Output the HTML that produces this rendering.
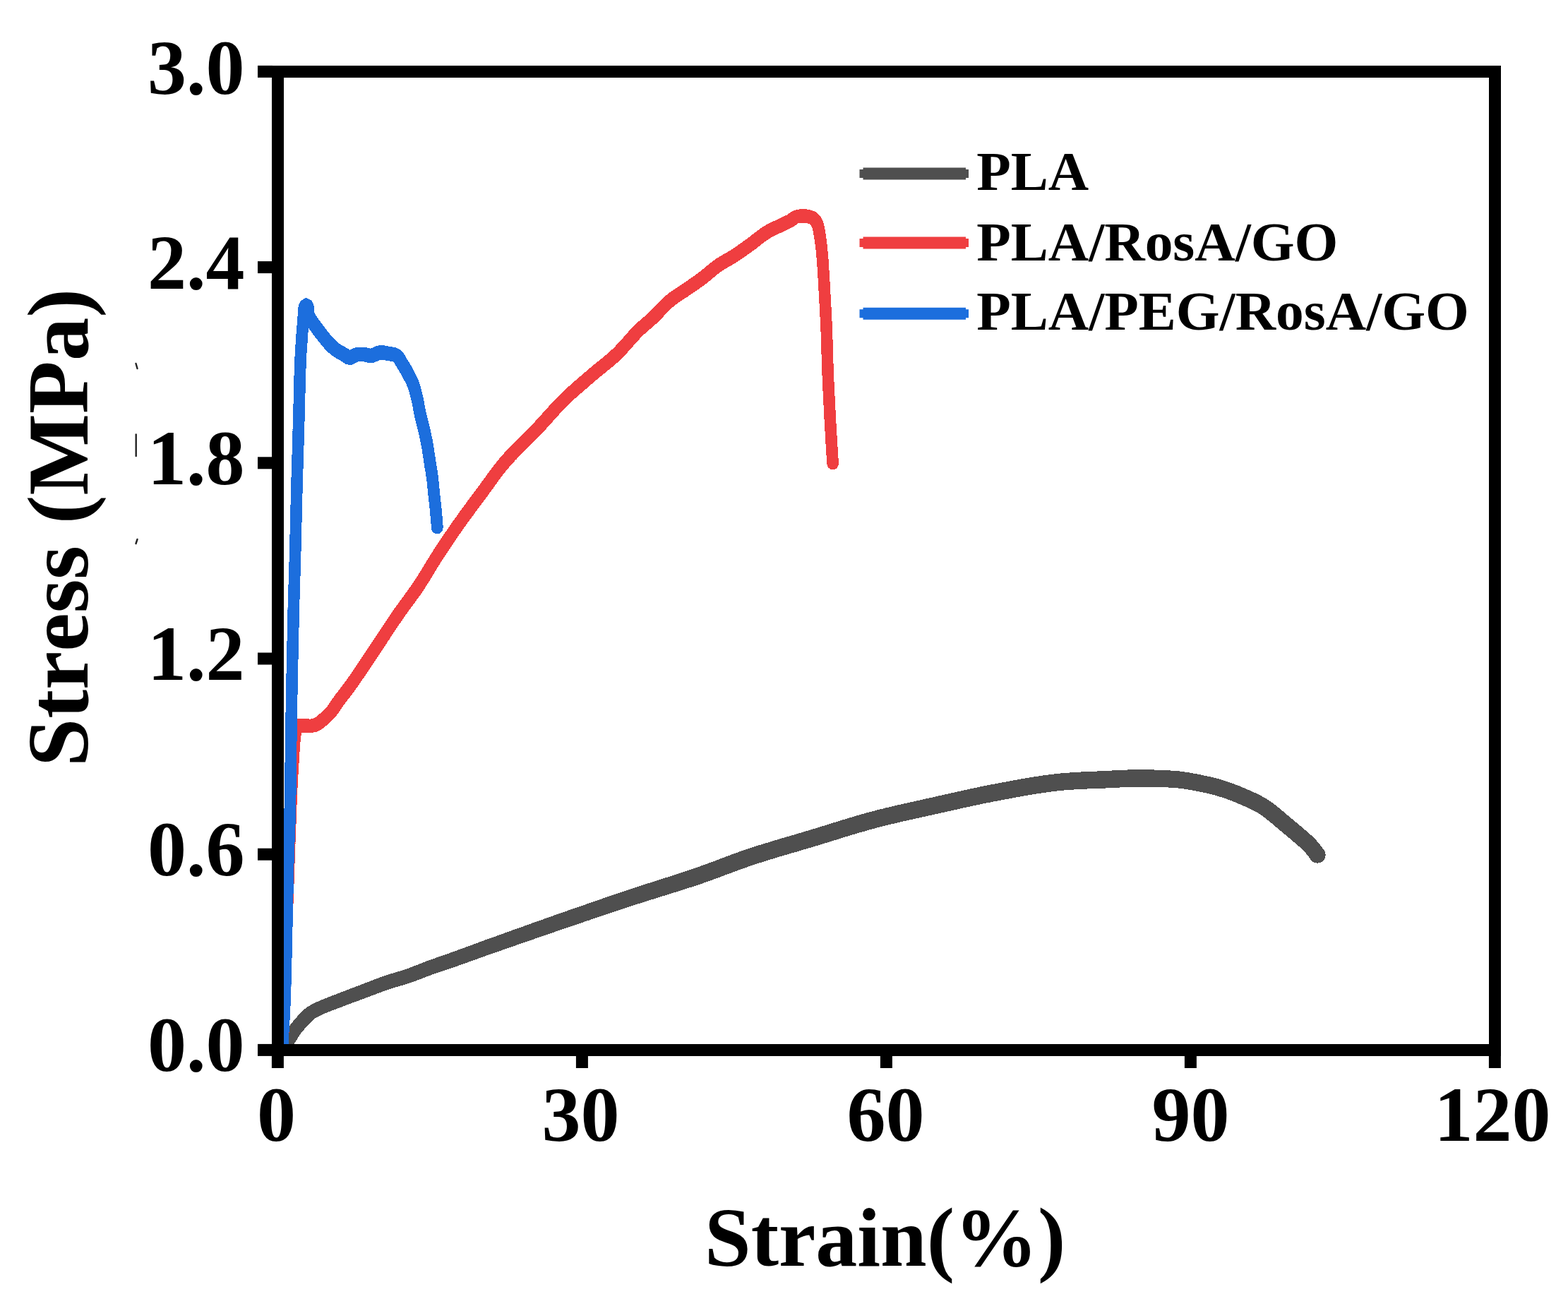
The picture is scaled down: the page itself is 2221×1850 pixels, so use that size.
<!DOCTYPE html>
<html><head><meta charset="utf-8"><title>Stress-Strain</title>
<style>html,body{margin:0;padding:0;background:#fff;}svg{display:block;} text{font-kerning:none;font-feature-settings:"kern" 0;}</style>
</head><body>
<svg width="2221" height="1850" viewBox="0 0 2221 1850">
<rect width="100%" height="100%" fill="#fff"/>
<g fill="none" stroke-linejoin="round" stroke-linecap="round" shape-rendering="crispEdges">
<path d="M401.0 1487.0 C401.8 1485.5 404.2 1481.2 406.0 1478.0 C407.8 1474.8 409.9 1471.3 412.0 1468.0 C414.1 1464.7 416.2 1461.1 418.5 1458.0 C420.8 1454.9 423.1 1452.3 425.5 1449.6 C427.9 1446.8 430.5 1444.0 433.0 1441.5 C435.5 1439.0 436.9 1437.2 440.7 1434.7 C444.5 1432.2 448.4 1430.1 456.0 1426.8 C463.6 1423.5 476.2 1418.8 486.4 1414.9 C496.5 1411.0 506.7 1407.2 516.9 1403.4 C527.1 1399.6 537.2 1395.5 547.4 1392.0 C557.6 1388.5 567.8 1386.1 577.9 1382.6 C588.0 1379.1 598.1 1374.7 608.3 1371.0 C618.4 1367.3 628.6 1364.1 638.8 1360.5 C649.0 1356.9 659.1 1353.2 669.3 1349.5 C679.5 1345.8 678.8 1345.9 699.8 1338.5 C720.8 1331.1 763.4 1316.0 795.2 1305.0 C827.0 1294.0 858.8 1283.0 890.5 1272.5 C922.2 1262.0 956.5 1251.8 985.7 1241.9 C1014.9 1232.0 1038.1 1222.1 1065.7 1213.0 C1093.3 1203.9 1122.8 1195.7 1151.4 1187.1 C1180.0 1178.5 1208.5 1169.0 1237.1 1161.4 C1265.7 1153.8 1294.3 1147.8 1322.9 1141.4 C1351.5 1135.0 1380.0 1128.4 1408.6 1122.9 C1437.2 1117.4 1467.4 1111.8 1494.3 1108.6 C1521.2 1105.4 1549.5 1105.0 1570.0 1104.0 C1590.5 1103.0 1601.4 1102.4 1617.1 1102.4 C1632.8 1102.4 1651.2 1103.0 1664.3 1104.0 C1677.4 1105.0 1685.2 1106.7 1695.7 1108.7 C1706.2 1110.7 1716.6 1112.9 1727.1 1116.0 C1737.6 1119.1 1748.1 1123.0 1758.6 1127.5 C1769.1 1132.0 1779.5 1136.2 1790.0 1143.0 C1800.5 1149.8 1810.9 1159.3 1821.4 1168.0 C1831.9 1176.7 1845.4 1187.8 1852.8 1195.0 C1860.2 1202.2 1863.8 1208.3 1866.0 1211.0" fill="none" stroke="#4f4f4f" stroke-width="18"/>
<path d="M409.4 1491.6 L409.9 1490.6 L410.6 1489.3 L411.5 1487.8 L412.4 1486.1 L413.4 1484.4 L414.3 1482.8 L415.1 1481.4 L415.9 1480.1 L416.7 1478.7 L417.6 1477.3 L418.4 1475.9 L419.3 1474.5 L420.2 1473.1 L421.0 1471.6 L421.9 1470.2 L422.8 1468.8 L423.7 1467.4 L424.6 1466.1 L425.4 1464.9 L426.3 1463.7 L427.1 1462.6 L428.0 1461.5 L428.8 1460.4 L429.8 1459.4 L430.7 1458.3 L431.7 1457.1 L432.7 1456.0 L433.8 1454.8 L434.8 1453.7 L435.8 1452.5 L436.8 1451.4 L437.8 1450.4 L438.8 1449.3 L439.9 1448.3 L441.1 1447.1 L442.1 1446.1 L442.9 1445.2 L443.7 1444.5 L444.8 1443.6 L446.2 1442.7 L447.0 1442.2 L447.8 1441.7 L448.8 1441.1 L449.8 1440.6 L450.9 1440.0 L452.0 1439.4 L453.3 1438.7 L454.7 1438.1 L456.3 1437.3 L458.0 1436.6 L459.9 1435.7 L460.9 1435.3 L462.1 1434.8 L463.3 1434.3 L464.5 1433.8 L465.8 1433.3 L467.2 1432.8 L468.6 1432.2 L470.0 1431.6 L471.5 1431.1 L473.0 1430.5 L474.5 1429.9 L476.1 1429.3 L477.6 1428.7 L479.2 1428.1 L480.8 1427.6 L482.3 1427.0 L483.9 1426.4 L485.4 1425.8 L486.9 1425.2 L488.5 1424.7 L489.9 1424.1 L491.4 1423.5 L492.8 1423.0 L494.3 1422.4 L495.7 1421.9 L497.2 1421.4 L498.6 1420.8 L500.0 1420.3 L501.5 1419.7 L502.9 1419.2 L504.4 1418.7 L505.9 1418.1 L507.3 1417.6 L508.8 1417.0 L510.2 1416.5 L511.7 1416.0 L513.1 1415.4 L514.6 1414.9 L516.0 1414.3 L517.5 1413.8 L518.9 1413.3 L520.4 1412.7 L521.9 1412.2 L523.3 1411.6 L524.8 1411.1 L526.3 1410.5 L527.7 1410.0 L529.2 1409.4 L530.7 1408.8 L532.1 1408.3 L533.6 1407.7 L535.0 1407.2 L536.4 1406.6 L537.9 1406.1 L539.3 1405.6 L540.7 1405.0 L542.2 1404.5 L543.6 1404.0 L545.0 1403.5 L546.4 1403.0 L547.8 1402.5 L549.2 1402.0 L550.6 1401.5 L552.0 1401.1 L553.4 1400.6 L554.8 1400.2 L556.2 1399.7 L557.6 1399.3 L559.0 1398.9 L560.4 1398.5 L561.9 1398.1 L563.3 1397.6 L564.8 1397.2 L566.2 1396.8 L567.7 1396.4 L569.2 1396.0 L570.6 1395.5 L572.1 1395.1 L573.6 1394.6 L575.1 1394.2 L576.6 1393.7 L578.2 1393.2 L579.7 1392.7 L581.2 1392.2 L582.7 1391.7 L584.3 1391.2 L585.8 1390.6 L587.3 1390.1 L588.8 1389.5 L590.2 1388.9 L591.7 1388.4 L593.2 1387.8 L594.7 1387.2 L596.1 1386.7 L597.6 1386.1 L599.0 1385.5 L600.5 1385.0 L601.9 1384.4 L603.3 1383.8 L604.8 1383.3 L606.2 1382.8 L607.6 1382.2 L609.0 1381.7 L610.4 1381.2 L611.8 1380.7 L613.2 1380.2 L614.7 1379.7 L616.1 1379.2 L617.5 1378.7 L618.9 1378.2 L620.4 1377.7 L621.8 1377.2 L623.2 1376.7 L624.7 1376.3 L626.1 1375.8 L627.6 1375.3 L629.0 1374.8 L630.5 1374.3 L632.0 1373.8 L633.4 1373.4 L634.9 1372.9 L636.4 1372.4 L637.8 1371.9 L639.3 1371.4 L640.8 1370.9 L642.3 1370.4 L643.7 1369.8 L645.2 1369.3 L646.7 1368.8 L648.1 1368.3 L649.6 1367.8 L651.1 1367.3 L652.5 1366.7 L654.0 1366.2 L655.4 1365.7 L656.9 1365.2 L658.4 1364.7 L659.8 1364.1 L661.3 1363.6 L662.7 1363.1 L664.2 1362.6 L665.6 1362.1 L667.1 1361.5 L668.5 1361.0 L670.0 1360.5 L671.4 1360.0 L672.9 1359.5 L674.3 1359.0 L675.6 1358.5 L676.7 1358.1 L677.8 1357.7 L678.8 1357.3 L679.8 1357.0 L680.7 1356.6 L681.7 1356.3 L682.6 1356.0 L683.6 1355.6 L684.7 1355.2 L685.8 1354.8 L687.1 1354.4 L688.4 1353.9 L690.0 1353.3 L691.7 1352.7 L693.5 1352.1 L695.6 1351.3 L698.0 1350.5 L700.5 1349.6 L703.4 1348.6 L704.3 1348.3 L705.3 1348.0 L706.3 1347.6 L707.4 1347.2 L708.4 1346.9 L709.5 1346.5 L710.6 1346.1 L711.8 1345.7 L712.9 1345.3 L714.1 1344.9 L715.3 1344.5 L716.6 1344.0 L717.8 1343.6 L719.1 1343.2 L720.4 1342.7 L721.7 1342.3 L723.0 1341.8 L724.4 1341.3 L725.7 1340.8 L727.1 1340.4 L728.5 1339.9 L729.9 1339.4 L731.4 1338.9 L732.8 1338.4 L734.3 1337.9 L735.7 1337.4 L737.2 1336.9 L738.7 1336.3 L740.2 1335.8 L741.7 1335.3 L743.2 1334.8 L744.8 1334.2 L746.3 1333.7 L747.9 1333.2 L749.4 1332.6 L751.0 1332.1 L752.5 1331.5 L754.1 1331.0 L755.7 1330.5 L757.3 1329.9 L758.8 1329.4 L760.4 1328.8 L762.0 1328.3 L763.6 1327.7 L765.2 1327.2 L766.8 1326.6 L768.4 1326.1 L769.9 1325.5 L771.5 1325.0 L773.1 1324.4 L774.7 1323.9 L776.3 1323.4 L777.8 1322.8 L779.4 1322.3 L780.9 1321.8 L782.5 1321.2 L784.0 1320.7 L785.6 1320.2 L787.1 1319.6 L788.6 1319.1 L790.1 1318.6 L791.6 1318.1 L793.1 1317.6 L794.5 1317.1 L796.0 1316.6 L797.4 1316.1 L798.9 1315.6 L800.3 1315.1 L801.7 1314.6 L803.1 1314.2 L804.6 1313.7 L806.0 1313.2 L807.4 1312.7 L808.8 1312.2 L810.3 1311.7 L811.7 1311.2 L813.1 1310.7 L814.5 1310.3 L816.0 1309.8 L817.4 1309.3 L818.8 1308.8 L820.2 1308.3 L821.7 1307.8 L823.1 1307.3 L824.5 1306.9 L825.9 1306.4 L827.4 1305.9 L828.8 1305.4 L830.2 1304.9 L831.6 1304.4 L833.0 1303.9 L834.5 1303.5 L835.9 1303.0 L837.3 1302.5 L838.7 1302.0 L840.2 1301.5 L841.6 1301.1 L843.0 1300.6 L844.4 1300.1 L845.8 1299.6 L847.3 1299.1 L848.7 1298.6 L850.1 1298.2 L851.5 1297.7 L853.0 1297.2 L854.4 1296.7 L855.8 1296.2 L857.2 1295.8 L858.6 1295.3 L860.1 1294.8 L861.5 1294.3 L862.9 1293.9 L864.3 1293.4 L865.7 1292.9 L867.2 1292.4 L868.6 1292.0 L870.0 1291.5 L871.4 1291.0 L872.8 1290.5 L874.3 1290.1 L875.7 1289.6 L877.1 1289.1 L878.5 1288.6 L879.9 1288.2 L881.4 1287.7 L882.8 1287.2 L884.2 1286.8 L885.6 1286.3 L887.0 1285.8 L888.5 1285.4 L889.9 1284.9 L891.3 1284.4 L892.7 1284.0 L894.1 1283.5 L895.6 1283.0 L897.0 1282.6 L898.5 1282.1 L899.9 1281.6 L901.4 1281.2 L902.8 1280.7 L904.3 1280.2 L905.7 1279.8 L907.2 1279.3 L908.6 1278.8 L910.1 1278.4 L911.6 1277.9 L913.0 1277.4 L914.5 1277.0 L916.0 1276.5 L917.5 1276.0 L918.9 1275.6 L920.4 1275.1 L921.9 1274.6 L923.4 1274.2 L924.9 1273.7 L926.3 1273.3 L927.8 1272.8 L929.3 1272.3 L930.8 1271.9 L932.3 1271.4 L933.7 1271.0 L935.2 1270.5 L936.7 1270.0 L938.2 1269.6 L939.6 1269.1 L941.1 1268.7 L942.6 1268.2 L944.1 1267.7 L945.5 1267.3 L947.0 1266.8 L948.5 1266.4 L949.9 1265.9 L951.4 1265.5 L952.9 1265.0 L954.3 1264.5 L955.8 1264.1 L957.2 1263.6 L958.7 1263.2 L960.1 1262.7 L961.6 1262.3 L963.0 1261.8 L964.5 1261.4 L965.9 1260.9 L967.3 1260.5 L968.7 1260.0 L970.2 1259.5 L971.6 1259.1 L973.0 1258.6 L974.4 1258.2 L975.8 1257.7 L977.2 1257.3 L978.6 1256.8 L980.0 1256.4 L981.4 1255.9 L982.7 1255.5 L984.1 1255.0 L985.5 1254.6 L986.8 1254.1 L988.2 1253.7 L989.5 1253.2 L991.1 1252.7 L992.7 1252.1 L994.3 1251.6 L995.8 1251.1 L997.3 1250.5 L998.9 1250.0 L1000.4 1249.5 L1001.9 1249.0 L1003.4 1248.4 L1004.9 1247.9 L1006.4 1247.4 L1007.8 1246.8 L1009.3 1246.3 L1010.8 1245.8 L1012.2 1245.2 L1013.7 1244.7 L1015.1 1244.2 L1016.5 1243.6 L1017.9 1243.1 L1019.4 1242.6 L1020.8 1242.1 L1022.2 1241.5 L1023.6 1241.0 L1025.0 1240.5 L1026.4 1240.0 L1027.7 1239.4 L1029.1 1238.9 L1030.5 1238.4 L1031.9 1237.9 L1033.3 1237.4 L1034.6 1236.9 L1036.0 1236.3 L1037.4 1235.8 L1038.8 1235.3 L1040.1 1234.8 L1041.5 1234.3 L1042.9 1233.8 L1044.3 1233.3 L1045.6 1232.8 L1047.0 1232.3 L1048.4 1231.8 L1049.8 1231.3 L1051.1 1230.8 L1052.5 1230.3 L1053.9 1229.8 L1055.3 1229.3 L1056.7 1228.8 L1058.1 1228.3 L1059.5 1227.8 L1060.9 1227.3 L1062.3 1226.8 L1063.7 1226.3 L1065.2 1225.9 L1066.6 1225.4 L1068.0 1224.9 L1069.5 1224.4 L1070.9 1224.0 L1072.3 1223.5 L1073.6 1223.1 L1075.0 1222.6 L1076.4 1222.2 L1077.8 1221.7 L1079.3 1221.3 L1080.7 1220.8 L1082.1 1220.4 L1083.5 1219.9 L1084.9 1219.5 L1086.3 1219.0 L1087.8 1218.6 L1089.2 1218.1 L1090.6 1217.7 L1092.1 1217.3 L1093.5 1216.8 L1094.9 1216.4 L1096.4 1216.0 L1097.8 1215.5 L1099.3 1215.1 L1100.7 1214.6 L1102.2 1214.2 L1103.6 1213.8 L1105.1 1213.3 L1106.5 1212.9 L1108.0 1212.5 L1109.4 1212.0 L1110.9 1211.6 L1112.3 1211.2 L1113.8 1210.8 L1115.3 1210.3 L1116.7 1209.9 L1118.2 1209.5 L1119.7 1209.0 L1121.1 1208.6 L1122.6 1208.2 L1124.1 1207.7 L1125.5 1207.3 L1127.0 1206.9 L1128.5 1206.5 L1129.9 1206.0 L1131.4 1205.6 L1132.9 1205.2 L1134.3 1204.7 L1135.8 1204.3 L1137.3 1203.9 L1138.7 1203.4 L1140.2 1203.0 L1141.7 1202.6 L1143.2 1202.1 L1144.6 1201.7 L1146.1 1201.3 L1147.6 1200.8 L1149.0 1200.4 L1150.5 1200.0 L1152.0 1199.5 L1153.4 1199.1 L1154.9 1198.7 L1156.3 1198.2 L1157.8 1197.8 L1159.3 1197.3 L1160.7 1196.9 L1162.2 1196.4 L1163.6 1196.0 L1165.1 1195.5 L1166.6 1195.1 L1168.0 1194.6 L1169.5 1194.2 L1170.9 1193.7 L1172.4 1193.3 L1173.9 1192.8 L1175.3 1192.4 L1176.8 1191.9 L1178.2 1191.5 L1179.7 1191.0 L1181.1 1190.6 L1182.6 1190.1 L1184.0 1189.7 L1185.5 1189.2 L1186.9 1188.8 L1188.4 1188.3 L1189.8 1187.9 L1191.3 1187.4 L1192.7 1187.0 L1194.2 1186.5 L1195.6 1186.1 L1197.1 1185.6 L1198.5 1185.2 L1200.0 1184.8 L1201.4 1184.3 L1202.9 1183.9 L1204.3 1183.4 L1205.7 1183.0 L1207.2 1182.6 L1208.6 1182.1 L1210.1 1181.7 L1211.5 1181.3 L1213.0 1180.8 L1214.4 1180.4 L1215.8 1180.0 L1217.3 1179.5 L1218.7 1179.1 L1220.1 1178.7 L1221.6 1178.3 L1223.0 1177.9 L1224.5 1177.5 L1225.9 1177.0 L1227.3 1176.6 L1228.8 1176.2 L1230.2 1175.8 L1231.6 1175.4 L1233.1 1175.0 L1234.5 1174.6 L1235.9 1174.2 L1237.4 1173.9 L1238.8 1173.5 L1240.2 1173.1 L1241.7 1172.7 L1243.1 1172.3 L1244.6 1171.9 L1246.0 1171.6 L1247.5 1171.2 L1249.0 1170.8 L1250.4 1170.4 L1251.9 1170.1 L1253.3 1169.7 L1254.8 1169.3 L1256.3 1169.0 L1257.7 1168.6 L1259.2 1168.3 L1260.7 1167.9 L1262.1 1167.6 L1263.6 1167.2 L1265.1 1166.9 L1266.5 1166.5 L1268.0 1166.2 L1269.5 1165.8 L1270.9 1165.5 L1272.4 1165.1 L1273.9 1164.8 L1275.3 1164.4 L1276.8 1164.1 L1278.3 1163.8 L1279.7 1163.4 L1281.2 1163.1 L1282.7 1162.8 L1284.2 1162.4 L1285.6 1162.1 L1287.1 1161.8 L1288.6 1161.4 L1290.0 1161.1 L1291.5 1160.8 L1293.0 1160.5 L1294.5 1160.1 L1295.9 1159.8 L1297.4 1159.5 L1298.9 1159.1 L1300.4 1158.8 L1301.9 1158.5 L1303.3 1158.2 L1304.8 1157.8 L1306.3 1157.5 L1307.8 1157.2 L1309.3 1156.9 L1310.7 1156.5 L1312.2 1156.2 L1313.7 1155.9 L1315.2 1155.5 L1316.7 1155.2 L1318.1 1154.9 L1319.6 1154.6 L1321.1 1154.2 L1322.6 1153.9 L1324.1 1153.6 L1325.6 1153.2 L1327.0 1152.9 L1328.5 1152.6 L1330.0 1152.2 L1331.5 1151.9 L1333.0 1151.6 L1334.4 1151.2 L1335.9 1150.9 L1337.4 1150.6 L1338.9 1150.2 L1340.4 1149.9 L1341.8 1149.6 L1343.3 1149.2 L1344.8 1148.9 L1346.3 1148.6 L1347.7 1148.3 L1349.2 1147.9 L1350.7 1147.6 L1352.2 1147.3 L1353.6 1146.9 L1355.1 1146.6 L1356.6 1146.3 L1358.1 1145.9 L1359.5 1145.6 L1361.0 1145.3 L1362.5 1145.0 L1364.0 1144.6 L1365.4 1144.3 L1366.9 1144.0 L1368.4 1143.7 L1369.8 1143.3 L1371.3 1143.0 L1372.8 1142.7 L1374.2 1142.4 L1375.7 1142.1 L1377.2 1141.7 L1378.7 1141.4 L1380.1 1141.1 L1381.6 1140.8 L1383.1 1140.5 L1384.5 1140.2 L1386.0 1139.9 L1387.5 1139.6 L1388.9 1139.3 L1390.4 1138.9 L1391.9 1138.6 L1393.3 1138.3 L1394.8 1138.0 L1396.3 1137.7 L1397.7 1137.4 L1399.2 1137.1 L1400.6 1136.9 L1402.1 1136.6 L1403.6 1136.3 L1405.0 1136.0 L1406.5 1135.7 L1408.0 1135.4 L1409.4 1135.1 L1410.9 1134.9 L1412.4 1134.6 L1413.9 1134.3 L1415.4 1134.0 L1416.9 1133.7 L1418.4 1133.4 L1419.9 1133.1 L1421.5 1132.8 L1423.0 1132.6 L1424.5 1132.3 L1426.0 1132.0 L1427.5 1131.7 L1429.1 1131.4 L1430.6 1131.1 L1432.1 1130.8 L1433.6 1130.6 L1435.1 1130.3 L1436.7 1130.0 L1438.2 1129.7 L1439.7 1129.4 L1441.2 1129.2 L1442.8 1128.9 L1444.3 1128.6 L1445.8 1128.4 L1447.3 1128.1 L1448.8 1127.8 L1450.4 1127.5 L1451.9 1127.3 L1453.4 1127.0 L1454.9 1126.8 L1456.4 1126.5 L1457.9 1126.3 L1459.4 1126.0 L1460.9 1125.7 L1462.4 1125.5 L1463.9 1125.3 L1465.4 1125.0 L1466.9 1124.8 L1468.4 1124.5 L1469.9 1124.3 L1471.3 1124.1 L1472.8 1123.8 L1474.3 1123.6 L1475.8 1123.4 L1477.2 1123.2 L1478.7 1123.0 L1480.1 1122.8 L1481.6 1122.6 L1483.0 1122.4 L1484.4 1122.2 L1485.9 1122.0 L1487.3 1121.8 L1488.7 1121.6 L1490.1 1121.4 L1491.5 1121.2 L1492.9 1121.1 L1494.3 1120.9 L1495.7 1120.7 L1497.3 1120.5 L1498.9 1120.4 L1500.4 1120.2 L1502.0 1120.0 L1503.6 1119.9 L1505.2 1119.7 L1506.8 1119.6 L1508.3 1119.4 L1509.9 1119.3 L1511.5 1119.2 L1513.1 1119.1 L1514.7 1118.9 L1516.3 1118.8 L1517.9 1118.7 L1519.5 1118.6 L1521.1 1118.5 L1522.6 1118.4 L1524.2 1118.3 L1525.8 1118.2 L1527.4 1118.1 L1528.9 1118.0 L1530.5 1117.9 L1532.1 1117.9 L1533.6 1117.8 L1535.2 1117.7 L1536.7 1117.6 L1538.2 1117.6 L1539.8 1117.5 L1541.3 1117.4 L1542.8 1117.4 L1544.3 1117.3 L1545.8 1117.2 L1547.3 1117.2 L1548.7 1117.1 L1550.2 1117.1 L1551.6 1117.0 L1553.1 1117.0 L1554.5 1116.9 L1555.9 1116.9 L1557.3 1116.8 L1558.7 1116.7 L1560.1 1116.7 L1561.5 1116.6 L1562.8 1116.6 L1564.2 1116.5 L1565.5 1116.5 L1566.8 1116.4 L1568.1 1116.3 L1569.4 1116.3 L1570.6 1116.2 L1572.6 1116.1 L1574.5 1116.0 L1576.3 1115.9 L1578.1 1115.8 L1579.8 1115.8 L1581.5 1115.7 L1583.2 1115.6 L1584.8 1115.5 L1586.3 1115.5 L1587.9 1115.4 L1589.4 1115.3 L1590.8 1115.3 L1592.3 1115.2 L1593.7 1115.1 L1595.1 1115.1 L1596.5 1115.0 L1597.8 1115.0 L1599.2 1114.9 L1600.5 1114.9 L1601.9 1114.8 L1603.2 1114.8 L1604.6 1114.8 L1605.9 1114.7 L1607.2 1114.7 L1608.6 1114.7 L1610.0 1114.7 L1611.3 1114.6 L1612.7 1114.6 L1614.2 1114.6 L1615.6 1114.6 L1617.1 1114.6 L1618.6 1114.6 L1620.1 1114.6 L1621.7 1114.6 L1623.2 1114.6 L1624.7 1114.6 L1626.3 1114.6 L1627.9 1114.6 L1629.5 1114.7 L1631.0 1114.7 L1632.6 1114.7 L1634.2 1114.7 L1635.8 1114.8 L1637.4 1114.8 L1638.9 1114.8 L1640.5 1114.9 L1642.1 1114.9 L1643.6 1115.0 L1645.2 1115.0 L1646.7 1115.1 L1648.2 1115.1 L1649.7 1115.2 L1651.2 1115.3 L1652.6 1115.3 L1654.1 1115.4 L1655.5 1115.5 L1656.9 1115.6 L1658.2 1115.6 L1659.5 1115.7 L1660.8 1115.8 L1662.1 1115.9 L1663.3 1116.0 L1665.1 1116.1 L1666.8 1116.3 L1668.4 1116.4 L1669.9 1116.6 L1671.4 1116.8 L1672.9 1116.9 L1674.3 1117.1 L1675.7 1117.3 L1677.1 1117.5 L1678.4 1117.7 L1679.7 1117.9 L1681.1 1118.1 L1682.4 1118.4 L1683.7 1118.6 L1685.0 1118.8 L1686.4 1119.1 L1687.7 1119.3 L1689.1 1119.6 L1690.5 1119.9 L1692.0 1120.1 L1693.4 1120.4 L1694.9 1120.7 L1696.4 1121.0 L1697.9 1121.3 L1699.3 1121.5 L1700.8 1121.8 L1702.3 1122.1 L1703.7 1122.4 L1705.2 1122.7 L1706.6 1123.0 L1708.1 1123.4 L1709.5 1123.7 L1710.9 1124.0 L1712.4 1124.3 L1713.8 1124.7 L1715.2 1125.0 L1716.6 1125.4 L1718.1 1125.8 L1719.5 1126.1 L1720.9 1126.5 L1722.3 1126.9 L1723.7 1127.3 L1725.1 1127.7 L1726.4 1128.2 L1727.8 1128.6 L1729.2 1129.0 L1730.6 1129.5 L1731.9 1129.9 L1733.3 1130.4 L1734.7 1130.8 L1736.1 1131.3 L1737.4 1131.8 L1738.8 1132.3 L1740.2 1132.8 L1741.6 1133.3 L1742.9 1133.8 L1744.3 1134.4 L1745.7 1134.9 L1747.1 1135.4 L1748.5 1136.0 L1749.8 1136.6 L1751.2 1137.1 L1752.6 1137.7 L1754.0 1138.3 L1755.4 1138.9 L1756.7 1139.5 L1758.1 1140.0 L1759.4 1140.6 L1760.8 1141.2 L1762.1 1141.8 L1763.4 1142.3 L1764.8 1142.9 L1766.1 1143.5 L1767.4 1144.1 L1768.7 1144.7 L1769.9 1145.3 L1771.2 1145.9 L1772.5 1146.5 L1773.8 1147.2 L1775.0 1147.8 L1776.3 1148.5 L1777.5 1149.2 L1778.7 1149.8 L1780.0 1150.6 L1781.2 1151.3 L1782.4 1152.0 L1783.7 1152.8 L1784.7 1153.5 L1785.8 1154.2 L1786.9 1155.0 L1788.0 1155.8 L1789.1 1156.6 L1790.2 1157.4 L1791.4 1158.3 L1792.5 1159.1 L1793.6 1160.0 L1794.8 1160.9 L1795.9 1161.9 L1797.1 1162.8 L1798.3 1163.8 L1799.5 1164.7 L1800.6 1165.7 L1801.8 1166.7 L1803.0 1167.7 L1804.2 1168.7 L1805.4 1169.8 L1806.6 1170.8 L1807.8 1171.8 L1809.1 1172.8 L1810.3 1173.9 L1811.5 1174.9 L1812.7 1175.9 L1814.0 1176.9 L1815.2 1177.9 L1816.4 1178.9 L1817.6 1179.9 L1818.8 1180.9 L1820.0 1182.0 L1821.3 1183.0 L1822.6 1184.1 L1823.8 1185.1 L1825.1 1186.2 L1826.3 1187.2 L1827.6 1188.3 L1828.9 1189.3 L1830.1 1190.4 L1831.3 1191.4 L1832.5 1192.5 L1833.7 1193.5 L1834.9 1194.5 L1836.1 1195.5 L1837.2 1196.5 L1838.3 1197.4 L1839.3 1198.4 L1840.4 1199.3 L1841.3 1200.1 L1842.3 1201.0 L1843.2 1201.8 L1843.9 1202.5 L1844.6 1203.2 L1846.1 1204.7 L1847.5 1206.1 L1848.7 1207.4 L1849.8 1208.7 L1850.8 1209.9 L1851.7 1211.1 L1852.6 1212.3 L1853.4 1213.3 L1854.1 1214.4 L1854.9 1215.4 L1855.6 1216.4 L1856.2 1217.2 L1856.8 1218.0 L1875.2 1204.0 L1874.7 1203.4 L1874.2 1202.7 L1873.6 1201.9 L1872.9 1200.8 L1872.0 1199.7 L1871.1 1198.4 L1870.0 1196.9 L1868.8 1195.4 L1867.5 1193.8 L1866.0 1192.1 L1864.4 1190.3 L1862.8 1188.6 L1861.0 1186.8 L1860.0 1185.8 L1859.0 1184.9 L1858.0 1183.9 L1856.9 1183.0 L1855.9 1182.0 L1854.8 1181.0 L1853.6 1180.0 L1852.5 1179.0 L1851.3 1178.0 L1850.1 1177.0 L1848.9 1175.9 L1847.6 1174.8 L1846.4 1173.8 L1845.1 1172.7 L1843.8 1171.6 L1842.6 1170.5 L1841.3 1169.4 L1840.0 1168.4 L1838.7 1167.3 L1837.4 1166.2 L1836.2 1165.1 L1834.9 1164.1 L1833.6 1163.1 L1832.4 1162.0 L1831.2 1161.0 L1830.0 1160.0 L1828.8 1159.1 L1827.6 1158.1 L1826.5 1157.1 L1825.3 1156.1 L1824.1 1155.1 L1822.9 1154.0 L1821.7 1153.0 L1820.5 1152.0 L1819.3 1151.0 L1818.0 1149.9 L1816.8 1148.9 L1815.6 1147.9 L1814.4 1146.8 L1813.1 1145.8 L1811.9 1144.8 L1810.6 1143.7 L1809.4 1142.7 L1808.1 1141.7 L1806.8 1140.7 L1805.5 1139.7 L1804.2 1138.7 L1803.0 1137.8 L1801.6 1136.8 L1800.3 1135.9 L1799.0 1135.0 L1797.7 1134.1 L1796.3 1133.2 L1794.8 1132.2 L1793.3 1131.3 L1791.8 1130.4 L1790.3 1129.5 L1788.8 1128.7 L1787.4 1127.9 L1785.9 1127.1 L1784.4 1126.3 L1782.9 1125.6 L1781.5 1124.9 L1780.0 1124.2 L1778.6 1123.5 L1777.2 1122.8 L1775.7 1122.2 L1774.3 1121.5 L1772.9 1120.9 L1771.5 1120.3 L1770.1 1119.7 L1768.7 1119.1 L1767.3 1118.5 L1765.9 1117.9 L1764.6 1117.3 L1763.2 1116.7 L1761.7 1116.1 L1760.3 1115.5 L1758.8 1114.8 L1757.3 1114.2 L1755.8 1113.6 L1754.3 1113.0 L1752.8 1112.4 L1751.4 1111.9 L1749.9 1111.3 L1748.4 1110.7 L1746.9 1110.2 L1745.4 1109.6 L1743.9 1109.1 L1742.4 1108.6 L1740.9 1108.1 L1739.4 1107.5 L1737.9 1107.0 L1736.5 1106.5 L1735.0 1106.1 L1733.5 1105.6 L1732.0 1105.1 L1730.5 1104.7 L1728.9 1104.2 L1727.3 1103.7 L1725.7 1103.3 L1724.2 1102.9 L1722.6 1102.4 L1721.0 1102.0 L1719.5 1101.6 L1717.9 1101.3 L1716.3 1100.9 L1714.8 1100.5 L1713.2 1100.2 L1711.7 1099.8 L1710.2 1099.5 L1708.6 1099.1 L1707.1 1098.8 L1705.5 1098.5 L1704.0 1098.2 L1702.5 1097.9 L1701.0 1097.6 L1699.5 1097.3 L1698.0 1097.0 L1696.5 1096.7 L1695.0 1096.4 L1693.6 1096.1 L1692.2 1095.9 L1690.8 1095.6 L1689.4 1095.3 L1687.9 1095.1 L1686.5 1094.8 L1685.1 1094.5 L1683.6 1094.3 L1682.2 1094.0 L1680.7 1093.8 L1679.1 1093.6 L1677.5 1093.4 L1675.9 1093.1 L1674.3 1092.9 L1672.6 1092.7 L1670.8 1092.5 L1669.0 1092.3 L1667.2 1092.2 L1665.3 1092.0 L1663.9 1091.9 L1662.6 1091.8 L1661.2 1091.7 L1659.8 1091.6 L1658.3 1091.5 L1656.9 1091.4 L1655.4 1091.3 L1653.9 1091.2 L1652.3 1091.1 L1650.8 1091.1 L1649.2 1091.0 L1647.7 1090.9 L1646.1 1090.9 L1644.5 1090.8 L1642.9 1090.7 L1641.3 1090.7 L1639.7 1090.6 L1638.0 1090.6 L1636.4 1090.5 L1634.8 1090.5 L1633.1 1090.4 L1631.5 1090.4 L1629.9 1090.4 L1628.2 1090.3 L1626.6 1090.3 L1625.0 1090.3 L1623.4 1090.3 L1621.8 1090.2 L1620.2 1090.2 L1618.7 1090.2 L1617.1 1090.2 L1615.6 1090.2 L1614.1 1090.2 L1612.6 1090.2 L1611.1 1090.2 L1609.7 1090.2 L1608.2 1090.2 L1606.8 1090.3 L1605.4 1090.3 L1604.0 1090.3 L1602.6 1090.3 L1601.2 1090.4 L1599.8 1090.4 L1598.4 1090.4 L1597.0 1090.5 L1595.6 1090.5 L1594.2 1090.6 L1592.7 1090.7 L1591.3 1090.7 L1589.8 1090.8 L1588.3 1090.8 L1586.7 1090.9 L1585.2 1091.0 L1583.6 1091.1 L1582.0 1091.1 L1580.3 1091.2 L1578.6 1091.3 L1576.9 1091.4 L1575.1 1091.5 L1573.2 1091.6 L1571.3 1091.7 L1569.4 1091.8 L1568.2 1091.8 L1566.9 1091.9 L1565.7 1092.0 L1564.4 1092.0 L1563.1 1092.1 L1561.8 1092.1 L1560.5 1092.2 L1559.1 1092.2 L1557.7 1092.3 L1556.4 1092.4 L1555.0 1092.4 L1553.6 1092.5 L1552.1 1092.5 L1550.7 1092.6 L1549.2 1092.6 L1547.8 1092.7 L1546.3 1092.8 L1544.8 1092.8 L1543.3 1092.9 L1541.7 1092.9 L1540.2 1093.0 L1538.7 1093.1 L1537.1 1093.1 L1535.5 1093.2 L1534.0 1093.3 L1532.4 1093.4 L1530.8 1093.5 L1529.2 1093.5 L1527.6 1093.6 L1526.0 1093.7 L1524.4 1093.8 L1522.7 1093.9 L1521.1 1094.0 L1519.5 1094.1 L1517.8 1094.2 L1516.2 1094.3 L1514.5 1094.5 L1512.9 1094.6 L1511.2 1094.7 L1509.6 1094.8 L1507.9 1095.0 L1506.2 1095.1 L1504.6 1095.3 L1502.9 1095.4 L1501.2 1095.6 L1499.6 1095.7 L1497.9 1095.9 L1496.2 1096.1 L1494.6 1096.3 L1492.9 1096.5 L1491.4 1096.6 L1490.0 1096.8 L1488.5 1097.0 L1487.0 1097.2 L1485.6 1097.4 L1484.1 1097.6 L1482.6 1097.8 L1481.1 1098.0 L1479.6 1098.2 L1478.2 1098.4 L1476.7 1098.6 L1475.2 1098.8 L1473.7 1099.1 L1472.1 1099.3 L1470.6 1099.5 L1469.1 1099.7 L1467.6 1100.0 L1466.1 1100.2 L1464.6 1100.4 L1463.0 1100.7 L1461.5 1100.9 L1460.0 1101.2 L1458.5 1101.4 L1456.9 1101.7 L1455.4 1102.0 L1453.9 1102.2 L1452.3 1102.5 L1450.8 1102.7 L1449.2 1103.0 L1447.7 1103.3 L1446.2 1103.5 L1444.6 1103.8 L1443.1 1104.1 L1441.5 1104.4 L1440.0 1104.6 L1438.4 1104.9 L1436.9 1105.2 L1435.4 1105.5 L1433.8 1105.8 L1432.3 1106.0 L1430.7 1106.3 L1429.2 1106.6 L1427.7 1106.9 L1426.1 1107.2 L1424.6 1107.5 L1423.0 1107.8 L1421.5 1108.1 L1420.0 1108.3 L1418.5 1108.6 L1416.9 1108.9 L1415.4 1109.2 L1413.9 1109.5 L1412.4 1109.8 L1410.8 1110.1 L1409.3 1110.4 L1407.8 1110.7 L1406.3 1110.9 L1404.8 1111.2 L1403.3 1111.5 L1401.8 1111.8 L1400.3 1112.1 L1398.8 1112.4 L1397.4 1112.7 L1395.9 1113.0 L1394.4 1113.3 L1392.9 1113.6 L1391.4 1113.9 L1389.9 1114.2 L1388.4 1114.5 L1386.9 1114.8 L1385.4 1115.1 L1384.0 1115.4 L1382.5 1115.8 L1381.0 1116.1 L1379.5 1116.4 L1378.0 1116.7 L1376.5 1117.0 L1375.0 1117.3 L1373.5 1117.7 L1372.1 1118.0 L1370.6 1118.3 L1369.1 1118.6 L1367.6 1118.9 L1366.1 1119.3 L1364.6 1119.6 L1363.1 1119.9 L1361.7 1120.3 L1360.2 1120.6 L1358.7 1120.9 L1357.2 1121.2 L1355.7 1121.6 L1354.3 1121.9 L1352.8 1122.2 L1351.3 1122.6 L1349.8 1122.9 L1348.3 1123.2 L1346.8 1123.6 L1345.4 1123.9 L1343.9 1124.2 L1342.4 1124.6 L1340.9 1124.9 L1339.4 1125.2 L1338.0 1125.6 L1336.5 1125.9 L1335.0 1126.2 L1333.5 1126.6 L1332.1 1126.9 L1330.6 1127.2 L1329.1 1127.6 L1327.6 1127.9 L1326.1 1128.2 L1324.7 1128.6 L1323.2 1128.9 L1321.7 1129.2 L1320.2 1129.6 L1318.8 1129.9 L1317.3 1130.2 L1315.8 1130.6 L1314.3 1130.9 L1312.9 1131.2 L1311.4 1131.5 L1309.9 1131.9 L1308.4 1132.2 L1307.0 1132.5 L1305.5 1132.8 L1304.0 1133.2 L1302.5 1133.5 L1301.1 1133.8 L1299.6 1134.2 L1298.1 1134.5 L1296.6 1134.8 L1295.1 1135.1 L1293.7 1135.5 L1292.2 1135.8 L1290.7 1136.1 L1289.2 1136.5 L1287.7 1136.8 L1286.2 1137.1 L1284.8 1137.5 L1283.3 1137.8 L1281.8 1138.1 L1280.3 1138.5 L1278.8 1138.8 L1277.3 1139.1 L1275.8 1139.5 L1274.3 1139.8 L1272.9 1140.2 L1271.4 1140.5 L1269.9 1140.8 L1268.4 1141.2 L1266.9 1141.5 L1265.4 1141.9 L1263.9 1142.2 L1262.4 1142.6 L1260.9 1142.9 L1259.4 1143.3 L1257.9 1143.7 L1256.4 1144.0 L1254.9 1144.4 L1253.5 1144.7 L1252.0 1145.1 L1250.5 1145.5 L1249.0 1145.8 L1247.5 1146.2 L1246.0 1146.6 L1244.5 1147.0 L1243.0 1147.4 L1241.5 1147.7 L1240.0 1148.1 L1238.5 1148.5 L1237.0 1148.9 L1235.5 1149.3 L1234.0 1149.7 L1232.5 1150.1 L1231.0 1150.5 L1229.6 1150.9 L1228.1 1151.3 L1226.6 1151.7 L1225.1 1152.1 L1223.7 1152.5 L1222.2 1153.0 L1220.7 1153.4 L1219.2 1153.8 L1217.8 1154.2 L1216.3 1154.6 L1214.8 1155.1 L1213.4 1155.5 L1211.9 1155.9 L1210.4 1156.4 L1209.0 1156.8 L1207.5 1157.2 L1206.0 1157.7 L1204.6 1158.1 L1203.1 1158.5 L1201.6 1159.0 L1200.2 1159.4 L1198.7 1159.9 L1197.3 1160.3 L1195.8 1160.8 L1194.3 1161.2 L1192.9 1161.7 L1191.4 1162.1 L1190.0 1162.6 L1188.5 1163.0 L1187.0 1163.5 L1185.6 1163.9 L1184.1 1164.4 L1182.7 1164.8 L1181.2 1165.3 L1179.8 1165.7 L1178.3 1166.2 L1176.9 1166.6 L1175.4 1167.1 L1174.0 1167.5 L1172.5 1168.0 L1171.1 1168.4 L1169.6 1168.9 L1168.2 1169.3 L1166.7 1169.8 L1165.3 1170.2 L1163.8 1170.7 L1162.4 1171.1 L1160.9 1171.6 L1159.5 1172.0 L1158.0 1172.5 L1156.6 1172.9 L1155.1 1173.4 L1153.7 1173.8 L1152.2 1174.2 L1150.8 1174.7 L1149.4 1175.1 L1147.9 1175.5 L1146.5 1176.0 L1145.0 1176.4 L1143.6 1176.9 L1142.1 1177.3 L1140.7 1177.7 L1139.2 1178.2 L1137.8 1178.6 L1136.3 1179.0 L1134.9 1179.4 L1133.4 1179.9 L1131.9 1180.3 L1130.5 1180.7 L1129.0 1181.2 L1127.5 1181.6 L1126.1 1182.0 L1124.6 1182.5 L1123.1 1182.9 L1121.7 1183.3 L1120.2 1183.8 L1118.7 1184.2 L1117.3 1184.6 L1115.8 1185.0 L1114.3 1185.5 L1112.9 1185.9 L1111.4 1186.3 L1109.9 1186.8 L1108.5 1187.2 L1107.0 1187.6 L1105.5 1188.1 L1104.0 1188.5 L1102.6 1189.0 L1101.1 1189.4 L1099.6 1189.8 L1098.2 1190.3 L1096.7 1190.7 L1095.2 1191.1 L1093.8 1191.6 L1092.3 1192.0 L1090.8 1192.5 L1089.4 1192.9 L1087.9 1193.4 L1086.5 1193.8 L1085.0 1194.2 L1083.5 1194.7 L1082.1 1195.1 L1080.6 1195.6 L1079.2 1196.0 L1077.7 1196.5 L1076.3 1197.0 L1074.8 1197.4 L1073.4 1197.9 L1072.0 1198.3 L1070.5 1198.8 L1069.1 1199.2 L1067.6 1199.7 L1066.2 1200.2 L1064.8 1200.6 L1063.3 1201.1 L1061.9 1201.6 L1060.4 1202.1 L1058.9 1202.6 L1057.4 1203.1 L1056.0 1203.6 L1054.5 1204.1 L1053.0 1204.6 L1051.6 1205.1 L1050.1 1205.6 L1048.7 1206.1 L1047.2 1206.6 L1045.8 1207.1 L1044.4 1207.7 L1043.0 1208.2 L1041.6 1208.7 L1040.1 1209.2 L1038.7 1209.7 L1037.3 1210.2 L1035.9 1210.7 L1034.5 1211.2 L1033.2 1211.8 L1031.8 1212.3 L1030.4 1212.8 L1029.0 1213.3 L1027.6 1213.8 L1026.2 1214.4 L1024.8 1214.9 L1023.5 1215.4 L1022.1 1215.9 L1020.7 1216.4 L1019.3 1217.0 L1017.9 1217.5 L1016.5 1218.0 L1015.1 1218.5 L1013.8 1219.0 L1012.4 1219.6 L1011.0 1220.1 L1009.6 1220.6 L1008.2 1221.1 L1006.8 1221.6 L1005.3 1222.2 L1003.9 1222.7 L1002.5 1223.2 L1001.1 1223.7 L999.6 1224.3 L998.2 1224.8 L996.8 1225.3 L995.3 1225.8 L993.8 1226.4 L992.4 1226.9 L990.9 1227.4 L989.4 1227.9 L987.9 1228.5 L986.4 1229.0 L984.9 1229.5 L983.4 1230.1 L981.9 1230.6 L980.5 1231.0 L979.2 1231.5 L977.9 1231.9 L976.6 1232.4 L975.2 1232.8 L973.9 1233.3 L972.5 1233.8 L971.1 1234.2 L969.8 1234.7 L968.4 1235.1 L967.0 1235.6 L965.6 1236.0 L964.3 1236.5 L962.9 1236.9 L961.5 1237.4 L960.0 1237.9 L958.6 1238.3 L957.2 1238.8 L955.8 1239.2 L954.4 1239.7 L952.9 1240.2 L951.5 1240.6 L950.1 1241.1 L948.6 1241.6 L947.2 1242.0 L945.7 1242.5 L944.3 1242.9 L942.8 1243.4 L941.4 1243.9 L939.9 1244.3 L938.5 1244.8 L937.0 1245.3 L935.5 1245.7 L934.1 1246.2 L932.6 1246.7 L931.1 1247.2 L929.6 1247.6 L928.2 1248.1 L926.7 1248.6 L925.2 1249.0 L923.7 1249.5 L922.2 1250.0 L920.8 1250.5 L919.3 1250.9 L917.8 1251.4 L916.3 1251.9 L914.8 1252.4 L913.3 1252.8 L911.9 1253.3 L910.4 1253.8 L908.9 1254.3 L907.4 1254.7 L905.9 1255.2 L904.5 1255.7 L903.0 1256.2 L901.5 1256.7 L900.0 1257.1 L898.6 1257.6 L897.1 1258.1 L895.6 1258.6 L894.2 1259.1 L892.7 1259.6 L891.2 1260.0 L889.8 1260.5 L888.3 1261.0 L886.9 1261.5 L885.4 1262.0 L884.0 1262.5 L882.6 1262.9 L881.2 1263.4 L879.7 1263.9 L878.3 1264.4 L876.9 1264.9 L875.5 1265.3 L874.0 1265.8 L872.6 1266.3 L871.2 1266.8 L869.8 1267.3 L868.3 1267.8 L866.9 1268.2 L865.5 1268.7 L864.1 1269.2 L862.7 1269.7 L861.2 1270.2 L859.8 1270.7 L858.4 1271.2 L857.0 1271.6 L855.5 1272.1 L854.1 1272.6 L852.7 1273.1 L851.3 1273.6 L849.8 1274.1 L848.4 1274.6 L847.0 1275.1 L845.6 1275.6 L844.1 1276.1 L842.7 1276.5 L841.3 1277.0 L839.9 1277.5 L838.5 1278.0 L837.0 1278.5 L835.6 1279.0 L834.2 1279.5 L832.8 1280.0 L831.3 1280.5 L829.9 1281.0 L828.5 1281.5 L827.1 1282.0 L825.7 1282.5 L824.2 1283.0 L822.8 1283.5 L821.4 1283.9 L820.0 1284.4 L818.5 1284.9 L817.1 1285.4 L815.7 1285.9 L814.3 1286.4 L812.9 1286.9 L811.4 1287.4 L810.0 1287.9 L808.6 1288.4 L807.2 1288.9 L805.7 1289.4 L804.3 1289.9 L802.9 1290.4 L801.5 1290.9 L800.1 1291.4 L798.6 1291.9 L797.2 1292.4 L795.8 1292.9 L794.4 1293.4 L792.9 1293.9 L791.5 1294.4 L790.1 1294.9 L788.7 1295.4 L787.2 1295.9 L785.7 1296.4 L784.2 1297.0 L782.8 1297.5 L781.2 1298.0 L779.7 1298.5 L778.2 1299.1 L776.7 1299.6 L775.1 1300.2 L773.6 1300.7 L772.0 1301.3 L770.5 1301.8 L768.9 1302.4 L767.4 1302.9 L765.8 1303.5 L764.2 1304.1 L762.6 1304.6 L761.0 1305.2 L759.5 1305.7 L757.9 1306.3 L756.3 1306.9 L754.7 1307.4 L753.1 1308.0 L751.5 1308.6 L750.0 1309.1 L748.4 1309.7 L746.8 1310.2 L745.3 1310.8 L743.7 1311.4 L742.1 1311.9 L740.6 1312.5 L739.0 1313.0 L737.5 1313.6 L736.0 1314.1 L734.5 1314.7 L732.9 1315.2 L731.4 1315.7 L730.0 1316.3 L728.5 1316.8 L727.0 1317.3 L725.6 1317.8 L724.1 1318.4 L722.7 1318.9 L721.3 1319.4 L719.9 1319.9 L718.5 1320.4 L717.2 1320.9 L715.8 1321.3 L714.5 1321.8 L713.2 1322.3 L711.9 1322.7 L710.6 1323.2 L709.4 1323.6 L708.1 1324.1 L706.9 1324.5 L705.8 1324.9 L704.6 1325.4 L703.5 1325.8 L702.3 1326.2 L701.3 1326.6 L700.2 1326.9 L699.2 1327.3 L698.2 1327.7 L697.2 1328.0 L696.2 1328.4 L693.4 1329.4 L690.8 1330.3 L688.4 1331.2 L686.3 1331.9 L684.5 1332.6 L682.7 1333.2 L681.2 1333.8 L679.8 1334.3 L678.5 1334.8 L677.4 1335.2 L676.3 1335.6 L675.3 1336.0 L674.3 1336.3 L673.4 1336.7 L672.5 1337.0 L671.5 1337.4 L670.5 1337.8 L669.5 1338.2 L668.3 1338.6 L667.1 1339.0 L665.7 1339.5 L664.2 1340.1 L662.8 1340.6 L661.3 1341.1 L659.9 1341.7 L658.4 1342.2 L657.0 1342.7 L655.5 1343.3 L654.1 1343.8 L652.6 1344.3 L651.2 1344.9 L649.7 1345.4 L648.3 1345.9 L646.9 1346.5 L645.4 1347.0 L644.0 1347.5 L642.5 1348.1 L641.1 1348.6 L639.6 1349.1 L638.2 1349.6 L636.8 1350.1 L635.3 1350.6 L633.9 1351.2 L632.5 1351.7 L631.0 1352.2 L629.6 1352.7 L628.2 1353.2 L626.7 1353.7 L625.3 1354.2 L623.9 1354.6 L622.4 1355.1 L621.0 1355.6 L619.5 1356.1 L618.0 1356.6 L616.6 1357.1 L615.1 1357.7 L613.6 1358.2 L612.2 1358.7 L610.7 1359.2 L609.2 1359.7 L607.8 1360.2 L606.3 1360.8 L604.8 1361.3 L603.3 1361.9 L601.8 1362.4 L600.3 1363.0 L598.8 1363.6 L597.3 1364.2 L595.9 1364.8 L594.4 1365.3 L593.0 1365.9 L591.5 1366.5 L590.1 1367.1 L588.6 1367.6 L587.2 1368.2 L585.8 1368.8 L584.4 1369.3 L582.9 1369.9 L581.5 1370.4 L580.1 1371.0 L578.7 1371.5 L577.3 1372.0 L576.0 1372.5 L574.6 1373.0 L573.2 1373.5 L571.8 1373.9 L570.5 1374.4 L569.1 1374.8 L567.7 1375.2 L566.3 1375.7 L564.8 1376.1 L563.4 1376.5 L562.0 1377.0 L560.5 1377.4 L559.1 1377.8 L557.6 1378.2 L556.2 1378.7 L554.7 1379.1 L553.2 1379.6 L551.7 1380.0 L550.2 1380.5 L548.7 1381.0 L547.2 1381.5 L545.7 1382.0 L544.2 1382.5 L542.7 1383.0 L541.2 1383.5 L539.7 1384.1 L538.2 1384.6 L536.7 1385.1 L535.2 1385.7 L533.7 1386.3 L532.3 1386.8 L530.8 1387.4 L529.3 1387.9 L527.9 1388.5 L526.4 1389.1 L524.9 1389.6 L523.5 1390.2 L522.0 1390.8 L520.6 1391.3 L519.1 1391.9 L517.7 1392.4 L516.3 1393.0 L514.8 1393.5 L513.4 1394.1 L512.0 1394.6 L510.5 1395.2 L509.1 1395.7 L507.6 1396.3 L506.2 1396.8 L504.7 1397.4 L503.2 1397.9 L501.8 1398.5 L500.3 1399.0 L498.9 1399.6 L497.4 1400.1 L496.0 1400.7 L494.5 1401.2 L493.1 1401.8 L491.6 1402.3 L490.2 1402.9 L488.7 1403.5 L487.2 1404.0 L485.8 1404.6 L484.3 1405.1 L482.9 1405.7 L481.4 1406.3 L479.9 1406.8 L478.4 1407.4 L476.9 1408.0 L475.3 1408.6 L473.8 1409.2 L472.2 1409.8 L470.6 1410.4 L469.1 1411.0 L467.5 1411.6 L466.0 1412.2 L464.4 1412.8 L462.9 1413.4 L461.4 1414.0 L460.0 1414.6 L458.6 1415.2 L457.2 1415.7 L455.8 1416.3 L454.6 1416.8 L453.3 1417.4 L452.1 1417.9 L450.0 1418.8 L448.1 1419.7 L446.4 1420.5 L444.7 1421.3 L443.2 1422.1 L441.7 1422.8 L440.3 1423.6 L439.1 1424.3 L437.8 1425.1 L436.5 1425.9 L435.2 1426.7 L433.2 1428.1 L431.4 1429.5 L429.8 1431.0 L428.5 1432.3 L427.3 1433.5 L426.1 1434.7 L425.0 1435.8 L423.8 1437.0 L422.7 1438.3 L421.5 1439.5 L420.4 1440.8 L419.3 1442.0 L418.3 1443.2 L417.2 1444.4 L416.2 1445.6 L415.1 1446.8 L414.0 1448.1 L412.9 1449.4 L411.8 1450.8 L410.7 1452.3 L409.7 1453.8 L408.6 1455.4 L407.6 1456.9 L406.6 1458.5 L405.7 1460.0 L404.7 1461.5 L403.8 1462.9 L402.9 1464.4 L402.0 1465.9 L401.1 1467.4 L400.2 1468.9 L399.4 1470.3 L398.5 1471.8 L397.7 1473.2 L396.7 1474.9 L395.7 1476.7 L394.7 1478.5 L393.9 1480.1 L393.1 1481.4 L392.6 1482.4 Z" fill="#4f4f4f" stroke="none"/>
<circle cx="1866.0" cy="1211.0" r="11.6" fill="#4f4f4f"/>
<path d="M400.5 1487.0 C400.9 1472.5 402.0 1431.2 403.0 1400.0 C404.0 1368.8 405.3 1333.3 406.5 1300.0 C407.7 1266.7 408.9 1230.0 410.0 1200.0 C411.1 1170.0 412.1 1140.8 413.0 1120.0 C413.9 1099.2 414.7 1088.0 415.5 1075.0 C416.3 1062.0 417.1 1049.7 418.0 1042.0 C418.9 1034.3 419.0 1031.3 421.0 1029.0 C423.0 1026.7 426.5 1028.2 430.0 1028.0 C433.5 1027.8 438.3 1028.7 442.0 1028.0 C445.7 1027.3 447.6 1027.2 452.0 1024.0 C456.4 1020.8 464.0 1013.9 468.6 1008.7 C473.2 1003.5 474.6 1000.1 479.8 993.0 C485.0 985.9 491.8 977.7 500.0 966.0 C508.2 954.3 518.5 938.7 529.0 923.0 C539.5 907.3 552.3 887.5 563.0 872.0 C573.7 856.5 583.2 844.6 593.0 830.0 C602.8 815.4 611.8 799.1 621.5 784.3 C631.2 769.4 640.8 755.4 651.0 740.9 C661.2 726.4 672.2 711.8 683.0 697.3 C693.8 682.8 703.3 668.4 715.8 653.9 C728.3 639.4 744.4 624.9 758.2 610.4 C772.0 595.9 785.2 580.0 798.4 566.9 C811.6 553.8 825.1 542.9 837.6 532.0 C850.1 521.1 862.6 512.1 873.5 501.7 C884.4 491.3 894.2 478.5 902.9 469.8 C911.6 461.1 918.1 456.5 925.7 449.3 C933.3 442.1 941.0 432.9 948.6 426.4 C956.2 419.9 963.9 415.7 971.5 410.4 C979.1 405.1 986.8 400.1 994.4 394.4 C1002.0 388.7 1009.6 381.5 1017.2 376.1 C1024.8 370.8 1032.5 367.3 1040.1 362.3 C1047.7 357.3 1055.4 351.8 1063.0 346.3 C1070.6 340.8 1078.3 333.9 1085.9 329.2 C1093.5 324.5 1103.1 320.8 1108.7 318.0 C1114.3 315.2 1116.5 314.2 1119.6 312.5 C1122.6 310.8 1124.3 308.6 1127.0 307.5 C1129.7 306.4 1133.2 306.2 1136.0 306.0 C1138.8 305.8 1141.3 305.9 1144.0 306.5 C1146.7 307.1 1149.7 307.6 1152.0 309.5 C1154.3 311.4 1156.4 313.8 1158.0 318.0 C1159.6 322.2 1160.4 328.0 1161.5 335.0 C1162.6 342.0 1163.7 350.8 1164.5 360.0 C1165.3 369.2 1165.6 372.8 1166.6 390.0 C1167.6 407.2 1169.5 439.4 1170.5 463.0 C1171.5 486.6 1171.8 508.7 1172.8 531.6 C1173.8 554.5 1175.1 579.3 1176.2 600.2 C1177.3 621.1 1179.0 647.5 1179.6 657.0" fill="none" stroke="#ef3e40" stroke-width="16.5"/>
<path d="M408.8 1487.2 L408.8 1486.5 L408.8 1485.6 L408.9 1484.8 L408.9 1483.9 L408.9 1482.9 L408.9 1481.9 L409.0 1480.9 L409.0 1479.8 L409.0 1478.7 L409.1 1477.5 L409.1 1476.3 L409.1 1475.1 L409.2 1473.9 L409.2 1472.6 L409.2 1471.2 L409.3 1469.9 L409.3 1468.5 L409.3 1467.1 L409.4 1465.6 L409.4 1464.2 L409.5 1462.7 L409.5 1461.2 L409.6 1459.6 L409.6 1458.1 L409.6 1456.5 L409.7 1454.9 L409.7 1453.3 L409.8 1451.6 L409.8 1450.0 L409.9 1448.3 L409.9 1446.6 L410.0 1444.9 L410.0 1443.2 L410.1 1441.5 L410.1 1439.8 L410.2 1438.1 L410.2 1436.3 L410.3 1434.6 L410.3 1432.8 L410.4 1431.1 L410.4 1429.3 L410.5 1427.6 L410.5 1425.8 L410.6 1424.1 L410.6 1422.3 L410.7 1420.6 L410.7 1418.8 L410.8 1417.1 L410.8 1415.4 L410.9 1413.6 L410.9 1411.9 L411.0 1410.2 L411.0 1408.5 L411.1 1406.8 L411.1 1405.2 L411.2 1403.5 L411.2 1401.9 L411.3 1400.3 L411.3 1398.8 L411.4 1397.4 L411.4 1396.0 L411.5 1394.6 L411.5 1393.1 L411.6 1391.7 L411.6 1390.2 L411.7 1388.8 L411.7 1387.3 L411.8 1385.8 L411.8 1384.4 L411.9 1382.9 L411.9 1381.4 L412.0 1379.9 L412.0 1378.4 L412.1 1376.9 L412.1 1375.5 L412.2 1374.0 L412.2 1372.4 L412.3 1370.9 L412.3 1369.4 L412.4 1367.9 L412.4 1366.4 L412.5 1364.9 L412.6 1363.4 L412.6 1361.8 L412.7 1360.3 L412.7 1358.8 L412.8 1357.3 L412.8 1355.7 L412.9 1354.2 L412.9 1352.6 L413.0 1351.1 L413.0 1349.6 L413.1 1348.0 L413.2 1346.5 L413.2 1344.9 L413.3 1343.4 L413.3 1341.8 L413.4 1340.3 L413.4 1338.8 L413.5 1337.2 L413.5 1335.7 L413.6 1334.1 L413.7 1332.6 L413.7 1331.0 L413.8 1329.5 L413.8 1327.9 L413.9 1326.4 L413.9 1324.8 L414.0 1323.3 L414.0 1321.7 L414.1 1320.2 L414.1 1318.7 L414.2 1317.1 L414.3 1315.6 L414.3 1314.0 L414.4 1312.5 L414.4 1311.0 L414.5 1309.4 L414.5 1307.9 L414.6 1306.4 L414.6 1304.9 L414.7 1303.3 L414.7 1301.8 L414.8 1300.3 L414.9 1298.8 L414.9 1297.3 L415.0 1295.7 L415.0 1294.2 L415.1 1292.7 L415.1 1291.1 L415.2 1289.6 L415.2 1288.0 L415.3 1286.5 L415.3 1284.9 L415.4 1283.4 L415.4 1281.8 L415.5 1280.3 L415.5 1278.7 L415.6 1277.2 L415.7 1275.6 L415.7 1274.0 L415.8 1272.5 L415.8 1270.9 L415.9 1269.3 L415.9 1267.8 L416.0 1266.2 L416.0 1264.6 L416.1 1263.1 L416.1 1261.5 L416.2 1260.0 L416.3 1258.4 L416.3 1256.8 L416.4 1255.3 L416.4 1253.7 L416.5 1252.1 L416.5 1250.6 L416.6 1249.0 L416.6 1247.5 L416.7 1245.9 L416.7 1244.4 L416.8 1242.8 L416.8 1241.3 L416.9 1239.8 L417.0 1238.2 L417.0 1236.7 L417.1 1235.2 L417.1 1233.7 L417.2 1232.1 L417.2 1230.6 L417.3 1229.1 L417.3 1227.6 L417.4 1226.1 L417.4 1224.6 L417.5 1223.1 L417.5 1221.7 L417.6 1220.2 L417.6 1218.7 L417.7 1217.3 L417.7 1215.8 L417.8 1214.4 L417.8 1212.9 L417.9 1211.5 L417.9 1210.1 L418.0 1208.6 L418.0 1207.2 L418.1 1205.8 L418.1 1204.4 L418.2 1203.0 L418.2 1201.7 L418.3 1200.3 L418.4 1198.6 L418.4 1196.9 L418.5 1195.2 L418.5 1193.5 L418.6 1191.8 L418.7 1190.2 L418.7 1188.5 L418.8 1186.8 L418.8 1185.1 L418.9 1183.5 L419.0 1181.8 L419.0 1180.1 L419.1 1178.5 L419.1 1176.8 L419.2 1175.2 L419.3 1173.6 L419.3 1171.9 L419.4 1170.3 L419.4 1168.7 L419.5 1167.1 L419.5 1165.5 L419.6 1163.9 L419.7 1162.3 L419.7 1160.8 L419.8 1159.2 L419.8 1157.6 L419.9 1156.1 L419.9 1154.6 L420.0 1153.0 L420.1 1151.5 L420.1 1150.0 L420.2 1148.5 L420.2 1147.1 L420.3 1145.6 L420.3 1144.1 L420.4 1142.7 L420.4 1141.3 L420.5 1139.8 L420.6 1138.4 L420.6 1137.0 L420.7 1135.7 L420.7 1134.3 L420.8 1133.0 L420.8 1131.6 L420.9 1130.3 L420.9 1129.0 L421.0 1127.7 L421.0 1126.5 L421.1 1125.2 L421.1 1124.0 L421.2 1122.8 L421.3 1121.6 L421.3 1120.4 L421.4 1118.3 L421.5 1116.3 L421.6 1114.4 L421.7 1112.5 L421.8 1110.7 L421.8 1109.0 L421.9 1107.3 L422.0 1105.6 L422.1 1104.0 L422.2 1102.4 L422.3 1100.9 L422.4 1099.4 L422.4 1097.9 L422.5 1096.5 L422.6 1095.0 L422.7 1093.7 L422.8 1092.3 L422.8 1091.0 L422.9 1089.6 L423.0 1088.3 L423.1 1087.0 L423.2 1085.7 L423.3 1084.5 L423.3 1083.2 L423.4 1081.9 L423.5 1080.7 L423.6 1079.4 L423.7 1078.1 L423.7 1076.8 L423.8 1075.5 L423.9 1073.8 L424.1 1072.0 L424.2 1070.3 L424.3 1068.5 L424.4 1066.8 L424.5 1065.1 L424.6 1063.5 L424.7 1061.8 L424.8 1060.2 L424.9 1058.6 L425.1 1057.1 L425.2 1055.6 L425.3 1054.1 L425.4 1052.7 L425.5 1051.3 L425.6 1049.9 L425.7 1048.6 L425.9 1047.4 L426.0 1046.2 L426.1 1045.1 L426.2 1044.0 L426.4 1043.0 L426.7 1040.3 L426.9 1038.1 L427.2 1036.4 L427.5 1035.2 L427.7 1034.5 L428.0 1034.4 L427.9 1035.0 L427.2 1036.0 L426.3 1036.8 L425.5 1037.2 L425.2 1037.4 L426.2 1037.6 L427.8 1037.7 L429.7 1037.7 L431.2 1037.7 L432.5 1037.8 L433.9 1037.8 L435.6 1037.9 L437.4 1038.0 L439.4 1038.0 L441.4 1037.9 L443.3 1037.6 L445.3 1037.3 L447.1 1036.9 L449.0 1036.4 L451.1 1035.6 L453.2 1034.5 L455.2 1033.3 L457.4 1031.8 L458.6 1030.9 L459.8 1029.9 L461.0 1028.9 L462.2 1027.9 L463.4 1026.8 L464.7 1025.7 L465.9 1024.6 L467.2 1023.4 L468.5 1022.2 L469.7 1020.9 L471.0 1019.7 L472.2 1018.5 L473.3 1017.3 L474.4 1016.0 L475.5 1014.8 L476.8 1013.4 L477.9 1011.9 L478.9 1010.5 L479.8 1009.2 L480.7 1007.9 L481.5 1006.6 L482.4 1005.3 L483.2 1004.1 L484.0 1002.8 L485.0 1001.4 L486.0 1000.0 L487.2 998.3 L487.9 997.5 L488.6 996.5 L489.3 995.5 L490.1 994.5 L490.9 993.5 L491.7 992.5 L492.5 991.4 L493.4 990.3 L494.3 989.1 L495.1 988.0 L496.1 986.8 L497.0 985.5 L498.0 984.3 L498.9 983.0 L499.9 981.6 L501.0 980.3 L502.0 978.9 L503.0 977.4 L504.1 975.9 L505.2 974.4 L506.3 972.9 L507.4 971.3 L508.2 970.2 L508.9 969.1 L509.7 968.0 L510.5 966.9 L511.2 965.8 L512.0 964.6 L512.8 963.5 L513.6 962.3 L514.4 961.1 L515.3 959.9 L516.1 958.6 L516.9 957.4 L517.8 956.2 L518.6 954.9 L519.5 953.6 L520.3 952.3 L521.2 951.1 L522.1 949.8 L522.9 948.4 L523.8 947.1 L524.7 945.8 L525.6 944.5 L526.5 943.1 L527.4 941.8 L528.3 940.4 L529.2 939.0 L530.1 937.7 L531.0 936.3 L531.9 934.9 L532.9 933.6 L533.8 932.2 L534.7 930.8 L535.6 929.4 L536.5 928.1 L537.3 926.9 L538.1 925.7 L539.0 924.4 L539.8 923.2 L540.6 922.0 L541.4 920.7 L542.3 919.5 L543.1 918.2 L544.0 916.9 L544.8 915.6 L545.7 914.3 L546.5 913.0 L547.4 911.7 L548.3 910.4 L549.1 909.1 L550.0 907.7 L550.9 906.4 L551.8 905.1 L552.6 903.8 L553.5 902.4 L554.4 901.1 L555.3 899.8 L556.1 898.5 L557.0 897.2 L557.9 895.8 L558.8 894.5 L559.6 893.2 L560.5 891.9 L561.4 890.6 L562.2 889.4 L563.1 888.1 L563.9 886.8 L564.8 885.6 L565.6 884.3 L566.4 883.1 L567.3 881.9 L568.1 880.7 L568.9 879.5 L569.7 878.3 L570.5 877.2 L571.4 875.8 L572.3 874.5 L573.3 873.2 L574.2 871.9 L575.1 870.7 L576.0 869.4 L576.9 868.2 L577.8 866.9 L578.7 865.7 L579.5 864.5 L580.4 863.3 L581.3 862.1 L582.2 860.9 L583.1 859.7 L584.0 858.5 L584.8 857.3 L585.7 856.1 L586.6 854.9 L587.5 853.7 L588.3 852.5 L589.2 851.3 L590.1 850.1 L590.9 848.9 L591.8 847.7 L592.7 846.5 L593.6 845.2 L594.4 844.0 L595.3 842.8 L596.2 841.5 L597.1 840.2 L597.9 839.0 L598.8 837.7 L599.7 836.4 L600.6 835.0 L601.4 833.7 L602.3 832.4 L603.1 831.1 L603.9 829.8 L604.8 828.5 L605.6 827.2 L606.4 825.9 L607.3 824.6 L608.1 823.2 L608.9 821.9 L609.7 820.6 L610.5 819.2 L611.4 817.9 L612.2 816.6 L613.0 815.3 L613.8 813.9 L614.6 812.6 L615.4 811.3 L616.2 809.9 L617.0 808.6 L617.8 807.3 L618.6 806.0 L619.4 804.6 L620.2 803.3 L621.0 802.0 L621.8 800.7 L622.6 799.4 L623.4 798.1 L624.2 796.8 L625.1 795.5 L625.9 794.3 L626.7 793.0 L627.5 791.7 L628.3 790.5 L629.1 789.2 L629.9 787.9 L630.8 786.7 L631.6 785.4 L632.5 784.1 L633.3 782.8 L634.2 781.5 L635.0 780.2 L635.9 779.0 L636.7 777.7 L637.6 776.4 L638.4 775.2 L639.3 773.9 L640.1 772.6 L641.0 771.4 L641.8 770.1 L642.7 768.8 L643.6 767.6 L644.4 766.3 L645.3 765.1 L646.1 763.8 L647.0 762.6 L647.9 761.3 L648.7 760.0 L649.6 758.8 L650.5 757.5 L651.3 756.3 L652.2 755.0 L653.1 753.8 L654.0 752.5 L654.9 751.2 L655.8 750.0 L656.6 748.7 L657.5 747.4 L658.4 746.2 L659.3 745.0 L660.1 743.8 L661.0 742.6 L661.9 741.4 L662.7 740.2 L663.6 739.0 L664.5 737.8 L665.3 736.6 L666.2 735.4 L667.1 734.2 L667.9 733.0 L668.8 731.8 L669.7 730.6 L670.6 729.4 L671.5 728.1 L672.4 726.9 L673.3 725.7 L674.1 724.5 L675.0 723.3 L675.9 722.1 L676.8 720.9 L677.7 719.7 L678.6 718.5 L679.5 717.3 L680.4 716.1 L681.3 714.9 L682.2 713.7 L683.1 712.4 L684.0 711.2 L684.9 710.0 L685.8 708.8 L686.7 707.6 L687.6 706.4 L688.5 705.2 L689.4 704.0 L690.3 702.8 L691.2 701.5 L692.1 700.3 L693.0 699.1 L693.9 697.9 L694.8 696.6 L695.7 695.4 L696.6 694.2 L697.5 693.0 L698.3 691.8 L699.2 690.6 L700.1 689.4 L700.9 688.2 L701.8 687.0 L702.7 685.8 L703.5 684.6 L704.4 683.4 L705.3 682.2 L706.1 681.0 L707.0 679.8 L707.9 678.6 L708.8 677.4 L709.6 676.3 L710.5 675.1 L711.4 673.9 L712.3 672.7 L713.2 671.6 L714.1 670.4 L715.1 669.2 L716.0 668.1 L716.9 666.9 L717.9 665.7 L718.8 664.6 L719.8 663.4 L720.8 662.3 L721.8 661.1 L722.8 659.9 L723.7 658.9 L724.6 657.9 L725.6 656.8 L726.5 655.8 L727.5 654.7 L728.5 653.7 L729.4 652.6 L730.4 651.6 L731.5 650.5 L732.5 649.5 L733.5 648.4 L734.5 647.3 L735.6 646.3 L736.6 645.2 L737.7 644.1 L738.8 643.1 L739.8 642.0 L740.9 640.9 L742.0 639.8 L743.1 638.8 L744.2 637.7 L745.3 636.6 L746.4 635.5 L747.5 634.4 L748.6 633.3 L749.7 632.3 L750.8 631.2 L751.9 630.1 L753.0 629.0 L754.1 627.9 L755.2 626.8 L756.3 625.7 L757.4 624.6 L758.5 623.5 L759.6 622.4 L760.7 621.2 L761.7 620.1 L762.8 619.0 L763.9 617.9 L764.9 616.8 L766.0 615.6 L767.1 614.5 L768.2 613.4 L769.2 612.2 L770.3 611.0 L771.3 609.9 L772.4 608.7 L773.5 607.6 L774.5 606.4 L775.6 605.2 L776.6 604.1 L777.6 602.9 L778.7 601.8 L779.7 600.6 L780.8 599.5 L781.8 598.3 L782.8 597.2 L783.8 596.0 L784.9 594.9 L785.9 593.7 L786.9 592.6 L787.9 591.5 L788.9 590.3 L790.0 589.2 L791.0 588.1 L792.0 587.0 L793.0 585.9 L794.0 584.8 L795.0 583.8 L796.0 582.7 L797.0 581.6 L798.0 580.6 L799.0 579.5 L800.0 578.5 L801.0 577.5 L802.0 576.5 L803.0 575.5 L804.0 574.5 L804.9 573.5 L806.1 572.4 L807.2 571.3 L808.4 570.2 L809.5 569.1 L810.7 568.1 L811.8 567.0 L812.9 565.9 L814.1 564.9 L815.2 563.8 L816.4 562.8 L817.5 561.8 L818.7 560.7 L819.8 559.7 L821.0 558.7 L822.1 557.7 L823.3 556.7 L824.4 555.7 L825.6 554.7 L826.7 553.7 L827.9 552.7 L829.0 551.7 L830.2 550.8 L831.3 549.8 L832.4 548.8 L833.6 547.8 L834.7 546.8 L835.9 545.9 L837.0 544.9 L838.1 543.9 L839.3 543.0 L840.4 542.0 L841.5 541.0 L842.6 540.1 L843.7 539.1 L844.9 538.1 L846.1 537.1 L847.3 536.1 L848.5 535.1 L849.7 534.1 L850.8 533.1 L852.0 532.1 L853.2 531.2 L854.4 530.2 L855.6 529.2 L856.8 528.3 L858.0 527.3 L859.1 526.4 L860.3 525.4 L861.5 524.4 L862.7 523.5 L863.9 522.5 L865.0 521.6 L866.2 520.6 L867.4 519.6 L868.6 518.6 L869.7 517.7 L870.9 516.7 L872.0 515.7 L873.2 514.7 L874.3 513.7 L875.5 512.6 L876.6 511.6 L877.7 510.6 L878.8 509.5 L880.0 508.4 L881.2 507.3 L882.4 506.0 L883.6 504.8 L884.8 503.6 L885.9 502.4 L887.1 501.1 L888.3 499.9 L889.4 498.6 L890.5 497.4 L891.6 496.1 L892.7 494.9 L893.8 493.7 L894.9 492.4 L896.0 491.2 L897.0 490.0 L898.1 488.8 L899.1 487.7 L900.1 486.5 L901.1 485.4 L902.1 484.3 L903.1 483.2 L904.0 482.1 L905.0 481.1 L905.9 480.1 L906.8 479.1 L907.7 478.1 L908.6 477.3 L909.5 476.4 L910.7 475.2 L911.9 474.0 L913.1 472.9 L914.2 471.9 L915.4 470.9 L916.5 469.9 L917.6 468.9 L918.6 468.0 L919.7 467.0 L920.8 466.1 L921.9 465.2 L923.0 464.3 L924.1 463.3 L925.2 462.4 L926.3 461.4 L927.4 460.4 L928.6 459.4 L929.8 458.3 L930.9 457.2 L932.1 456.1 L933.3 454.9 L934.4 453.8 L935.6 452.7 L936.7 451.5 L937.8 450.3 L938.9 449.2 L940.0 448.0 L941.1 446.8 L942.2 445.7 L943.3 444.5 L944.4 443.4 L945.5 442.3 L946.5 441.2 L947.6 440.1 L948.6 439.1 L949.7 438.1 L950.7 437.1 L951.7 436.2 L952.7 435.2 L953.7 434.4 L954.7 433.6 L955.8 432.6 L957.0 431.7 L958.1 430.8 L959.3 430.0 L960.5 429.1 L961.7 428.3 L962.9 427.5 L964.1 426.7 L965.3 425.9 L966.5 425.1 L967.8 424.3 L969.0 423.4 L970.3 422.6 L971.6 421.8 L972.9 420.9 L974.3 420.0 L975.6 419.1 L976.9 418.2 L978.2 417.3 L979.4 416.4 L980.7 415.6 L981.9 414.7 L983.2 413.9 L984.5 413.0 L985.8 412.1 L987.0 411.2 L988.3 410.4 L989.6 409.5 L990.9 408.6 L992.2 407.7 L993.5 406.8 L994.8 405.8 L996.1 404.9 L997.4 403.9 L998.8 402.9 L1000.1 401.9 L1001.4 401.0 L1002.6 400.0 L1003.9 398.9 L1005.2 397.9 L1006.4 396.9 L1007.6 395.9 L1008.8 394.8 L1010.0 393.8 L1011.2 392.8 L1012.4 391.8 L1013.6 390.8 L1014.8 389.9 L1015.9 388.9 L1017.1 388.0 L1018.2 387.1 L1019.3 386.2 L1020.5 385.4 L1021.6 384.6 L1022.6 383.9 L1023.9 383.0 L1025.1 382.2 L1026.3 381.5 L1027.6 380.7 L1028.8 380.0 L1030.1 379.2 L1031.4 378.5 L1032.7 377.7 L1034.0 377.0 L1035.4 376.2 L1036.7 375.5 L1038.1 374.7 L1039.5 373.8 L1040.9 373.0 L1042.4 372.1 L1043.8 371.2 L1045.2 370.3 L1046.6 369.4 L1047.9 368.5 L1049.2 367.7 L1050.5 366.8 L1051.8 365.9 L1053.1 365.0 L1054.4 364.1 L1055.7 363.2 L1057.0 362.3 L1058.3 361.3 L1059.6 360.4 L1060.9 359.5 L1062.2 358.6 L1063.4 357.7 L1064.7 356.7 L1066.0 355.8 L1067.3 354.9 L1068.6 353.9 L1069.8 353.0 L1071.1 352.1 L1072.4 351.1 L1073.6 350.1 L1074.8 349.2 L1076.1 348.2 L1077.3 347.2 L1078.5 346.3 L1079.7 345.3 L1080.9 344.4 L1082.0 343.5 L1083.2 342.6 L1084.3 341.8 L1085.5 340.9 L1086.6 340.1 L1087.7 339.4 L1088.8 338.6 L1089.8 338.0 L1090.9 337.3 L1092.2 336.6 L1093.5 335.8 L1094.9 335.1 L1096.3 334.4 L1097.7 333.7 L1099.2 333.0 L1100.6 332.3 L1102.1 331.6 L1103.5 330.9 L1105.0 330.3 L1106.4 329.7 L1107.8 329.0 L1109.2 328.4 L1110.5 327.8 L1111.7 327.2 L1112.9 326.6 L1114.9 325.7 L1116.6 324.8 L1118.0 324.1 L1119.4 323.5 L1120.6 322.8 L1121.9 322.2 L1123.2 321.4 L1124.7 320.5 L1126.7 319.2 L1128.3 318.0 L1129.4 317.1 L1130.2 316.5 L1130.9 316.3 L1131.3 316.3 L1131.9 316.2 L1132.9 316.0 L1134.1 315.9 L1135.3 315.8 L1136.4 315.7 L1137.8 315.7 L1139.0 315.7 L1140.0 315.7 L1141.0 315.8 L1142.2 316.1 L1143.4 316.3 L1144.4 316.5 L1145.2 316.7 L1145.9 316.9 L1146.5 317.2 L1146.8 317.4 L1147.3 317.7 L1147.9 318.2 L1148.5 318.9 L1149.2 320.0 L1149.8 321.4 L1150.1 322.0 L1150.5 322.8 L1150.8 323.9 L1151.1 325.1 L1151.4 326.4 L1151.7 327.8 L1152.0 329.3 L1152.3 330.9 L1152.5 332.6 L1152.8 334.4 L1153.1 336.3 L1153.3 337.6 L1153.5 338.9 L1153.7 340.3 L1153.9 341.7 L1154.1 343.2 L1154.3 344.6 L1154.5 346.2 L1154.7 347.7 L1154.9 349.3 L1155.1 350.9 L1155.3 352.5 L1155.5 354.1 L1155.6 355.7 L1155.8 357.4 L1156.0 359.1 L1156.1 360.8 L1156.3 362.1 L1156.4 363.4 L1156.5 364.6 L1156.6 365.7 L1156.7 366.8 L1156.8 368.0 L1156.9 369.1 L1157.0 370.2 L1157.1 371.4 L1157.2 372.6 L1157.3 373.9 L1157.3 375.2 L1157.4 376.7 L1157.5 378.2 L1157.6 379.9 L1157.8 381.7 L1157.9 383.6 L1158.0 385.7 L1158.1 388.0 L1158.3 390.5 L1158.3 391.6 L1158.4 392.7 L1158.5 393.9 L1158.5 395.1 L1158.6 396.3 L1158.7 397.6 L1158.8 398.9 L1158.8 400.2 L1158.9 401.6 L1159.0 403.0 L1159.1 404.4 L1159.2 405.8 L1159.2 407.3 L1159.3 408.8 L1159.4 410.3 L1159.5 411.8 L1159.6 413.3 L1159.7 414.9 L1159.8 416.5 L1159.9 418.1 L1159.9 419.7 L1160.0 421.3 L1160.1 422.9 L1160.2 424.5 L1160.3 426.2 L1160.4 427.8 L1160.5 429.5 L1160.6 431.2 L1160.7 432.8 L1160.8 434.5 L1160.8 436.2 L1160.9 437.8 L1161.0 439.5 L1161.1 441.2 L1161.2 442.8 L1161.3 444.5 L1161.4 446.1 L1161.4 447.8 L1161.5 449.4 L1161.6 451.0 L1161.7 452.6 L1161.8 454.2 L1161.8 455.8 L1161.9 457.3 L1162.0 458.9 L1162.1 460.4 L1162.1 461.9 L1162.2 463.4 L1162.3 464.9 L1162.3 466.5 L1162.4 468.0 L1162.5 469.6 L1162.5 471.1 L1162.6 472.7 L1162.6 474.2 L1162.7 475.8 L1162.7 477.3 L1162.8 478.8 L1162.9 480.4 L1162.9 481.9 L1163.0 483.4 L1163.0 484.9 L1163.1 486.4 L1163.1 488.0 L1163.1 489.5 L1163.2 491.0 L1163.2 492.5 L1163.3 494.0 L1163.3 495.5 L1163.4 497.1 L1163.4 498.6 L1163.5 500.1 L1163.5 501.6 L1163.5 503.1 L1163.6 504.6 L1163.6 506.1 L1163.7 507.6 L1163.7 509.1 L1163.8 510.7 L1163.8 512.2 L1163.9 513.7 L1163.9 515.2 L1164.0 516.7 L1164.0 518.2 L1164.0 519.7 L1164.1 521.3 L1164.2 522.8 L1164.2 524.3 L1164.3 525.8 L1164.3 527.4 L1164.4 528.9 L1164.4 530.4 L1164.5 531.9 L1164.6 533.5 L1164.6 535.0 L1164.7 536.6 L1164.8 538.1 L1164.8 539.7 L1164.9 541.2 L1165.0 542.8 L1165.0 544.3 L1165.1 545.9 L1165.2 547.5 L1165.2 549.0 L1165.3 550.6 L1165.4 552.2 L1165.5 553.7 L1165.5 555.3 L1165.6 556.9 L1165.7 558.4 L1165.8 560.0 L1165.8 561.6 L1165.9 563.2 L1166.0 564.7 L1166.1 566.3 L1166.2 567.8 L1166.2 569.4 L1166.3 570.9 L1166.4 572.5 L1166.5 574.0 L1166.6 575.6 L1166.6 577.1 L1166.7 578.6 L1166.8 580.2 L1166.9 581.7 L1166.9 583.2 L1167.0 584.7 L1167.1 586.2 L1167.2 587.7 L1167.3 589.2 L1167.3 590.6 L1167.4 592.1 L1167.5 593.5 L1167.6 595.0 L1167.7 596.4 L1167.7 597.8 L1167.8 599.3 L1167.9 600.7 L1168.0 602.4 L1168.1 604.1 L1168.2 605.8 L1168.3 607.6 L1168.4 609.4 L1168.5 611.2 L1168.6 613.0 L1168.7 614.8 L1168.8 616.6 L1168.9 618.4 L1169.0 620.2 L1169.1 622.0 L1169.2 623.8 L1169.3 625.6 L1169.4 627.4 L1169.5 629.1 L1169.6 630.8 L1169.7 632.6 L1169.8 634.2 L1169.9 635.9 L1170.0 637.5 L1170.1 639.1 L1170.2 640.7 L1170.3 642.2 L1170.4 643.7 L1170.5 645.2 L1170.6 646.6 L1170.7 647.9 L1170.8 649.2 L1170.8 650.5 L1170.9 651.7 L1171.0 652.8 L1171.1 653.9 L1171.1 654.9 L1171.2 655.8 L1171.2 656.7 L1171.3 657.5 L1187.9 656.5 L1187.9 655.7 L1187.8 654.8 L1187.8 653.9 L1187.7 652.9 L1187.6 651.8 L1187.6 650.6 L1187.5 649.4 L1187.4 648.2 L1187.3 646.9 L1187.3 645.5 L1187.2 644.1 L1187.1 642.7 L1187.0 641.2 L1186.9 639.7 L1186.8 638.1 L1186.7 636.5 L1186.6 634.9 L1186.5 633.2 L1186.4 631.5 L1186.3 629.8 L1186.2 628.1 L1186.1 626.3 L1186.0 624.6 L1185.9 622.8 L1185.7 621.0 L1185.6 619.2 L1185.5 617.4 L1185.4 615.6 L1185.3 613.8 L1185.2 612.0 L1185.1 610.2 L1185.0 608.4 L1184.9 606.7 L1184.8 604.9 L1184.7 603.2 L1184.6 601.4 L1184.5 599.7 L1184.4 598.3 L1184.4 596.9 L1184.3 595.5 L1184.2 594.1 L1184.1 592.6 L1184.1 591.2 L1184.0 589.7 L1183.9 588.3 L1183.8 586.8 L1183.7 585.3 L1183.7 583.8 L1183.6 582.3 L1183.5 580.8 L1183.4 579.3 L1183.3 577.8 L1183.3 576.2 L1183.2 574.7 L1183.1 573.2 L1183.0 571.6 L1182.9 570.1 L1182.9 568.5 L1182.8 567.0 L1182.7 565.4 L1182.6 563.9 L1182.5 562.3 L1182.5 560.8 L1182.4 559.2 L1182.3 557.6 L1182.2 556.1 L1182.2 554.5 L1182.1 552.9 L1182.0 551.4 L1181.9 549.8 L1181.9 548.2 L1181.8 546.7 L1181.7 545.1 L1181.6 543.6 L1181.6 542.0 L1181.5 540.5 L1181.4 538.9 L1181.4 537.4 L1181.3 535.8 L1181.2 534.3 L1181.2 532.8 L1181.1 531.3 L1181.0 529.7 L1181.0 528.2 L1180.9 526.7 L1180.9 525.2 L1180.8 523.7 L1180.7 522.2 L1180.7 520.7 L1180.6 519.2 L1180.6 517.7 L1180.5 516.2 L1180.5 514.7 L1180.4 513.2 L1180.4 511.7 L1180.3 510.2 L1180.3 508.6 L1180.3 507.1 L1180.2 505.6 L1180.2 504.1 L1180.1 502.6 L1180.1 501.1 L1180.0 499.6 L1180.0 498.1 L1179.9 496.6 L1179.9 495.1 L1179.9 493.5 L1179.8 492.0 L1179.8 490.5 L1179.7 489.0 L1179.7 487.5 L1179.6 485.9 L1179.6 484.4 L1179.5 482.9 L1179.5 481.3 L1179.4 479.8 L1179.4 478.3 L1179.3 476.7 L1179.3 475.2 L1179.2 473.6 L1179.2 472.1 L1179.1 470.5 L1179.1 468.9 L1179.0 467.4 L1178.9 465.8 L1178.9 464.2 L1178.8 462.6 L1178.7 461.1 L1178.7 459.6 L1178.6 458.1 L1178.5 456.5 L1178.5 455.0 L1178.4 453.4 L1178.3 451.8 L1178.2 450.2 L1178.2 448.6 L1178.1 446.9 L1178.0 445.3 L1177.9 443.6 L1177.8 442.0 L1177.7 440.3 L1177.7 438.6 L1177.6 437.0 L1177.5 435.3 L1177.4 433.6 L1177.3 431.9 L1177.2 430.3 L1177.1 428.6 L1177.0 426.9 L1176.9 425.3 L1176.9 423.6 L1176.8 422.0 L1176.7 420.4 L1176.6 418.7 L1176.5 417.1 L1176.4 415.5 L1176.3 414.0 L1176.2 412.4 L1176.1 410.8 L1176.1 409.3 L1176.0 407.8 L1175.9 406.3 L1175.8 404.9 L1175.7 403.4 L1175.6 402.0 L1175.6 400.6 L1175.5 399.2 L1175.4 397.9 L1175.3 396.6 L1175.3 395.3 L1175.2 394.1 L1175.1 392.9 L1175.1 391.7 L1175.0 390.6 L1174.9 389.5 L1174.8 387.0 L1174.6 384.7 L1174.5 382.6 L1174.4 380.7 L1174.3 378.8 L1174.2 377.2 L1174.1 375.6 L1174.0 374.1 L1173.9 372.7 L1173.8 371.4 L1173.7 370.2 L1173.7 369.0 L1173.6 367.8 L1173.5 366.6 L1173.4 365.4 L1173.3 364.3 L1173.2 363.1 L1173.1 361.9 L1173.0 360.6 L1172.9 359.2 L1172.7 357.5 L1172.5 355.8 L1172.4 354.0 L1172.2 352.3 L1172.0 350.6 L1171.8 349.0 L1171.6 347.3 L1171.5 345.7 L1171.3 344.1 L1171.1 342.5 L1170.9 341.0 L1170.7 339.4 L1170.5 337.9 L1170.3 336.5 L1170.1 335.1 L1169.9 333.7 L1169.6 331.8 L1169.3 330.0 L1169.0 328.2 L1168.8 326.4 L1168.5 324.7 L1168.2 323.0 L1167.8 321.4 L1167.5 319.7 L1167.1 318.1 L1166.7 316.4 L1166.2 314.6 L1165.2 312.1 L1164.0 309.8 L1162.7 307.5 L1161.2 305.5 L1159.5 303.6 L1157.5 301.8 L1155.2 300.1 L1152.6 298.9 L1150.1 298.0 L1147.9 297.4 L1145.8 296.9 L1143.8 296.6 L1141.7 296.3 L1139.6 296.2 L1137.6 296.2 L1135.6 296.3 L1133.8 296.4 L1132.0 296.5 L1130.0 296.8 L1127.9 297.2 L1125.5 297.8 L1123.1 298.7 L1120.7 300.0 L1118.7 301.4 L1117.2 302.6 L1115.9 303.6 L1114.5 304.5 L1113.7 304.8 L1112.9 305.2 L1112.0 305.7 L1110.9 306.3 L1109.6 306.9 L1108.1 307.6 L1106.4 308.4 L1104.5 309.4 L1103.5 309.9 L1102.4 310.4 L1101.2 310.9 L1099.9 311.5 L1098.5 312.1 L1097.1 312.8 L1095.6 313.4 L1094.0 314.2 L1092.4 314.9 L1090.8 315.7 L1089.2 316.5 L1087.5 317.3 L1085.8 318.2 L1084.2 319.1 L1082.5 320.1 L1080.9 321.1 L1079.6 322.0 L1078.2 322.9 L1076.9 323.8 L1075.6 324.7 L1074.3 325.7 L1073.0 326.6 L1071.7 327.6 L1070.5 328.6 L1069.3 329.5 L1068.0 330.5 L1066.8 331.5 L1065.6 332.4 L1064.4 333.4 L1063.2 334.3 L1062.0 335.2 L1060.9 336.1 L1059.7 337.0 L1058.6 337.8 L1057.4 338.7 L1056.2 339.6 L1054.9 340.5 L1053.6 341.4 L1052.4 342.3 L1051.1 343.2 L1049.9 344.1 L1048.6 345.0 L1047.3 345.9 L1046.1 346.8 L1044.8 347.6 L1043.6 348.5 L1042.3 349.4 L1041.1 350.2 L1039.9 351.1 L1038.6 351.9 L1037.4 352.7 L1036.2 353.5 L1035.0 354.3 L1033.7 355.1 L1032.4 355.9 L1031.2 356.6 L1029.9 357.4 L1028.6 358.1 L1027.3 358.9 L1026.0 359.6 L1024.6 360.4 L1023.2 361.1 L1021.9 361.9 L1020.5 362.7 L1019.0 363.6 L1017.6 364.5 L1016.2 365.4 L1014.7 366.3 L1013.2 367.3 L1011.8 368.3 L1010.4 369.3 L1009.1 370.3 L1007.8 371.3 L1006.6 372.3 L1005.3 373.3 L1004.1 374.3 L1002.8 375.4 L1001.6 376.4 L1000.4 377.4 L999.2 378.4 L998.0 379.4 L996.8 380.4 L995.6 381.4 L994.4 382.4 L993.3 383.3 L992.1 384.2 L991.0 385.1 L989.8 386.0 L988.7 386.9 L987.5 387.7 L986.3 388.6 L985.1 389.5 L983.8 390.4 L982.6 391.3 L981.3 392.1 L980.1 393.0 L978.8 393.9 L977.6 394.7 L976.3 395.6 L975.1 396.4 L973.8 397.3 L972.5 398.2 L971.2 399.1 L969.9 399.9 L968.7 400.8 L967.4 401.7 L966.1 402.6 L964.9 403.4 L963.7 404.3 L962.4 405.1 L961.2 405.9 L959.9 406.7 L958.7 407.5 L957.4 408.3 L956.1 409.2 L954.8 410.1 L953.5 410.9 L952.1 411.9 L950.8 412.8 L949.4 413.8 L948.1 414.8 L946.7 415.8 L945.3 416.9 L943.9 418.1 L942.5 419.2 L941.3 420.3 L940.1 421.4 L938.9 422.5 L937.8 423.6 L936.6 424.8 L935.5 425.9 L934.3 427.1 L933.2 428.2 L932.1 429.4 L931.0 430.6 L929.9 431.7 L928.8 432.9 L927.7 434.0 L926.6 435.2 L925.5 436.3 L924.5 437.4 L923.4 438.5 L922.4 439.5 L921.3 440.6 L920.3 441.6 L919.3 442.5 L918.2 443.5 L917.1 444.5 L916.1 445.4 L915.0 446.3 L914.0 447.3 L912.9 448.2 L911.9 449.1 L910.8 450.0 L909.7 450.9 L908.6 451.9 L907.5 452.8 L906.3 453.8 L905.2 454.8 L904.0 455.9 L902.8 457.0 L901.5 458.1 L900.3 459.3 L899.0 460.6 L897.7 461.9 L896.3 463.2 L895.3 464.3 L894.3 465.3 L893.3 466.4 L892.3 467.5 L891.3 468.6 L890.3 469.7 L889.3 470.8 L888.3 472.0 L887.2 473.2 L886.2 474.3 L885.2 475.5 L884.2 476.7 L883.1 477.9 L882.1 479.0 L881.0 480.2 L880.0 481.4 L878.9 482.6 L877.9 483.8 L876.8 484.9 L875.7 486.1 L874.7 487.3 L873.6 488.4 L872.5 489.5 L871.4 490.7 L870.3 491.8 L869.2 492.8 L868.2 493.9 L867.0 495.0 L866.0 495.9 L865.0 496.8 L864.0 497.7 L863.0 498.7 L861.9 499.6 L860.8 500.5 L859.8 501.5 L858.7 502.4 L857.6 503.3 L856.5 504.2 L855.4 505.2 L854.2 506.1 L853.1 507.0 L852.0 508.0 L850.8 508.9 L849.6 509.8 L848.5 510.8 L847.3 511.7 L846.1 512.7 L844.9 513.7 L843.7 514.6 L842.5 515.6 L841.3 516.6 L840.1 517.6 L838.9 518.6 L837.6 519.6 L836.4 520.7 L835.2 521.7 L833.9 522.8 L832.7 523.8 L831.5 524.9 L830.4 525.9 L829.3 526.8 L828.1 527.8 L827.0 528.7 L825.9 529.7 L824.8 530.6 L823.7 531.6 L822.5 532.6 L821.4 533.6 L820.2 534.5 L819.1 535.5 L817.9 536.5 L816.8 537.5 L815.6 538.5 L814.4 539.5 L813.3 540.5 L812.1 541.6 L810.9 542.6 L809.8 543.6 L808.6 544.7 L807.4 545.7 L806.2 546.8 L805.0 547.8 L803.8 548.9 L802.6 550.0 L801.4 551.1 L800.2 552.2 L799.0 553.3 L797.8 554.5 L796.6 555.6 L795.4 556.8 L794.2 557.9 L793.1 559.1 L791.9 560.3 L790.8 561.3 L789.8 562.4 L788.7 563.4 L787.7 564.5 L786.6 565.6 L785.6 566.7 L784.5 567.8 L783.5 568.9 L782.5 570.0 L781.4 571.1 L780.4 572.3 L779.4 573.4 L778.3 574.5 L777.3 575.6 L776.3 576.8 L775.2 577.9 L774.2 579.1 L773.2 580.2 L772.1 581.4 L771.1 582.5 L770.1 583.7 L769.0 584.8 L768.0 586.0 L767.0 587.1 L765.9 588.2 L764.9 589.4 L763.9 590.5 L762.9 591.7 L761.8 592.8 L760.8 594.0 L759.8 595.1 L758.7 596.2 L757.7 597.4 L756.7 598.5 L755.6 599.6 L754.6 600.7 L753.5 601.8 L752.5 602.9 L751.5 604.0 L750.5 605.1 L749.4 606.1 L748.4 607.2 L747.4 608.3 L746.3 609.3 L745.2 610.4 L744.2 611.5 L743.1 612.5 L742.0 613.6 L741.0 614.7 L739.9 615.8 L738.8 616.8 L737.7 617.9 L736.6 619.0 L735.5 620.1 L734.4 621.2 L733.3 622.3 L732.2 623.4 L731.1 624.4 L730.0 625.5 L728.9 626.6 L727.8 627.7 L726.7 628.8 L725.6 629.9 L724.5 631.0 L723.4 632.1 L722.3 633.3 L721.2 634.4 L720.2 635.5 L719.1 636.6 L718.0 637.7 L717.0 638.8 L715.9 639.9 L714.9 641.1 L713.8 642.2 L712.8 643.3 L711.8 644.5 L710.8 645.6 L709.8 646.7 L708.8 647.9 L707.7 649.1 L706.7 650.4 L705.7 651.6 L704.6 652.9 L703.6 654.1 L702.6 655.4 L701.6 656.6 L700.6 657.9 L699.7 659.1 L698.7 660.4 L697.8 661.6 L696.8 662.8 L695.9 664.1 L695.0 665.3 L694.1 666.5 L693.2 667.8 L692.3 669.0 L691.4 670.2 L690.5 671.4 L689.6 672.6 L688.7 673.9 L687.9 675.1 L687.0 676.3 L686.1 677.5 L685.2 678.7 L684.4 679.9 L683.5 681.1 L682.6 682.3 L681.8 683.5 L680.9 684.7 L680.0 685.9 L679.2 687.1 L678.3 688.3 L677.4 689.5 L676.5 690.7 L675.7 691.8 L674.8 693.0 L673.9 694.3 L673.0 695.5 L672.1 696.7 L671.2 697.9 L670.3 699.1 L669.4 700.3 L668.5 701.5 L667.5 702.7 L666.6 703.9 L665.7 705.2 L664.8 706.4 L663.9 707.6 L663.0 708.8 L662.1 710.0 L661.2 711.2 L660.3 712.5 L659.4 713.7 L658.5 714.9 L657.6 716.1 L656.8 717.3 L655.9 718.5 L655.0 719.8 L654.1 721.0 L653.2 722.2 L652.3 723.4 L651.4 724.6 L650.5 725.9 L649.7 727.1 L648.8 728.3 L647.9 729.5 L647.0 730.8 L646.2 732.0 L645.3 733.2 L644.4 734.4 L643.6 735.6 L642.6 736.9 L641.7 738.2 L640.8 739.5 L639.9 740.8 L639.1 742.0 L638.2 743.3 L637.3 744.6 L636.4 745.9 L635.5 747.2 L634.6 748.4 L633.7 749.7 L632.9 751.0 L632.0 752.3 L631.1 753.5 L630.2 754.8 L629.4 756.1 L628.5 757.4 L627.6 758.6 L626.8 759.9 L625.9 761.2 L625.1 762.5 L624.2 763.8 L623.3 765.0 L622.5 766.3 L621.6 767.6 L620.8 768.9 L619.9 770.2 L619.0 771.5 L618.2 772.8 L617.3 774.1 L616.5 775.4 L615.6 776.7 L614.8 778.0 L613.9 779.4 L613.1 780.7 L612.2 782.0 L611.4 783.3 L610.6 784.6 L609.7 785.9 L608.9 787.3 L608.1 788.6 L607.3 789.9 L606.4 791.2 L605.6 792.6 L604.8 793.9 L604.0 795.2 L603.2 796.6 L602.4 797.9 L601.6 799.2 L600.8 800.6 L600.0 801.9 L599.2 803.2 L598.4 804.5 L597.6 805.9 L596.8 807.2 L595.9 808.5 L595.1 809.8 L594.3 811.1 L593.5 812.4 L592.7 813.7 L591.9 815.0 L591.1 816.2 L590.3 817.5 L589.5 818.8 L588.7 820.0 L587.9 821.3 L587.1 822.5 L586.3 823.7 L585.4 825.0 L584.6 826.2 L583.8 827.4 L582.9 828.7 L582.1 829.9 L581.2 831.1 L580.4 832.3 L579.5 833.5 L578.7 834.7 L577.9 835.8 L577.0 837.0 L576.1 838.2 L575.3 839.4 L574.4 840.5 L573.6 841.7 L572.7 842.9 L571.8 844.1 L571.0 845.3 L570.1 846.4 L569.2 847.6 L568.3 848.8 L567.5 850.0 L566.6 851.3 L565.7 852.5 L564.8 853.7 L563.9 855.0 L563.0 856.2 L562.1 857.5 L561.1 858.8 L560.2 860.1 L559.3 861.4 L558.3 862.7 L557.4 864.1 L556.5 865.5 L555.5 866.8 L554.7 868.0 L553.9 869.2 L553.0 870.4 L552.2 871.7 L551.4 872.9 L550.5 874.2 L549.7 875.4 L548.8 876.7 L548.0 878.0 L547.1 879.3 L546.2 880.5 L545.4 881.9 L544.5 883.2 L543.6 884.5 L542.8 885.8 L541.9 887.1 L541.0 888.4 L540.1 889.8 L539.2 891.1 L538.4 892.4 L537.5 893.8 L536.6 895.1 L535.7 896.4 L534.9 897.7 L534.0 899.1 L533.1 900.4 L532.2 901.7 L531.4 903.0 L530.5 904.3 L529.7 905.6 L528.8 906.9 L528.0 908.2 L527.1 909.4 L526.3 910.7 L525.5 911.9 L524.7 913.2 L523.8 914.4 L523.0 915.6 L522.2 916.8 L521.5 917.9 L520.5 919.3 L519.6 920.7 L518.7 922.1 L517.8 923.5 L516.8 924.9 L515.9 926.2 L515.0 927.6 L514.1 929.0 L513.2 930.3 L512.3 931.7 L511.4 933.0 L510.5 934.4 L509.6 935.7 L508.7 937.0 L507.8 938.3 L507.0 939.6 L506.1 940.9 L505.2 942.2 L504.4 943.5 L503.5 944.8 L502.7 946.0 L501.9 947.2 L501.0 948.5 L500.2 949.7 L499.4 950.9 L498.6 952.0 L497.8 953.2 L497.0 954.3 L496.3 955.4 L495.5 956.6 L494.7 957.6 L494.0 958.7 L493.3 959.7 L492.6 960.7 L491.5 962.3 L490.4 963.8 L489.3 965.2 L488.3 966.6 L487.3 968.0 L486.3 969.4 L485.3 970.7 L484.3 972.0 L483.4 973.2 L482.4 974.4 L481.5 975.6 L480.6 976.8 L479.7 978.0 L478.8 979.1 L478.0 980.2 L477.2 981.3 L476.3 982.4 L475.5 983.4 L474.7 984.5 L473.9 985.5 L473.2 986.6 L472.4 987.7 L471.1 989.4 L470.0 991.1 L469.0 992.7 L468.0 994.1 L467.2 995.4 L466.4 996.6 L465.7 997.6 L465.0 998.6 L464.2 999.6 L463.5 1000.5 L462.6 1001.5 L461.7 1002.6 L460.8 1003.5 L459.9 1004.4 L458.9 1005.4 L457.8 1006.5 L456.7 1007.6 L455.6 1008.6 L454.5 1009.7 L453.3 1010.7 L452.2 1011.7 L451.1 1012.7 L450.0 1013.6 L449.0 1014.4 L448.1 1015.2 L447.3 1015.7 L446.6 1016.2 L445.3 1017.1 L444.2 1017.6 L443.6 1017.8 L443.2 1017.9 L442.5 1018.0 L441.7 1018.2 L440.7 1018.4 L439.7 1018.5 L438.8 1018.5 L437.6 1018.5 L436.3 1018.4 L434.8 1018.4 L433.1 1018.3 L431.6 1018.2 L430.3 1018.3 L428.7 1018.2 L426.9 1018.1 L424.7 1017.9 L421.4 1018.2 L417.9 1019.5 L414.8 1022.0 L412.8 1024.8 L411.7 1027.5 L411.1 1029.7 L410.7 1031.8 L410.4 1033.9 L410.2 1036.0 L409.9 1038.3 L409.6 1041.0 L409.5 1042.1 L409.4 1043.3 L409.3 1044.6 L409.2 1045.8 L409.0 1047.2 L408.9 1048.5 L408.8 1049.9 L408.7 1051.4 L408.6 1052.8 L408.5 1054.4 L408.4 1055.9 L408.3 1057.5 L408.2 1059.1 L408.1 1060.7 L407.9 1062.4 L407.8 1064.0 L407.7 1065.7 L407.6 1067.5 L407.5 1069.2 L407.4 1070.9 L407.3 1072.7 L407.2 1074.5 L407.1 1075.8 L407.0 1077.0 L406.9 1078.3 L406.8 1079.6 L406.8 1080.9 L406.7 1082.1 L406.6 1083.4 L406.5 1084.7 L406.4 1086.0 L406.4 1087.3 L406.3 1088.6 L406.2 1090.0 L406.1 1091.3 L406.0 1092.7 L406.0 1094.1 L405.9 1095.5 L405.8 1097.0 L405.7 1098.4 L405.6 1100.0 L405.6 1101.5 L405.5 1103.1 L405.4 1104.8 L405.3 1106.4 L405.2 1108.2 L405.1 1109.9 L405.0 1111.8 L405.0 1113.6 L404.9 1115.6 L404.8 1117.6 L404.7 1119.6 L404.6 1120.8 L404.6 1122.0 L404.5 1123.3 L404.5 1124.5 L404.4 1125.8 L404.4 1127.0 L404.3 1128.3 L404.3 1129.6 L404.2 1131.0 L404.2 1132.3 L404.1 1133.7 L404.1 1135.0 L404.0 1136.4 L404.0 1137.8 L403.9 1139.2 L403.8 1140.6 L403.8 1142.1 L403.7 1143.5 L403.7 1145.0 L403.6 1146.4 L403.6 1147.9 L403.5 1149.4 L403.5 1150.9 L403.4 1152.4 L403.3 1154.0 L403.3 1155.5 L403.2 1157.0 L403.2 1158.6 L403.1 1160.2 L403.1 1161.7 L403.0 1163.3 L402.9 1164.9 L402.9 1166.5 L402.8 1168.1 L402.8 1169.7 L402.7 1171.3 L402.7 1173.0 L402.6 1174.6 L402.5 1176.2 L402.5 1177.9 L402.4 1179.5 L402.4 1181.2 L402.3 1182.9 L402.2 1184.5 L402.2 1186.2 L402.1 1187.9 L402.1 1189.6 L402.0 1191.2 L401.9 1192.9 L401.9 1194.6 L401.8 1196.3 L401.8 1198.0 L401.7 1199.7 L401.7 1201.1 L401.6 1202.4 L401.6 1203.8 L401.5 1205.2 L401.5 1206.6 L401.4 1208.0 L401.4 1209.5 L401.3 1210.9 L401.3 1212.3 L401.2 1213.8 L401.1 1215.2 L401.1 1216.7 L401.0 1218.1 L401.0 1219.6 L400.9 1221.1 L400.9 1222.6 L400.8 1224.0 L400.8 1225.5 L400.7 1227.0 L400.7 1228.5 L400.6 1230.0 L400.6 1231.6 L400.5 1233.1 L400.5 1234.6 L400.4 1236.1 L400.4 1237.7 L400.3 1239.2 L400.3 1240.7 L400.2 1242.3 L400.1 1243.8 L400.1 1245.4 L400.0 1246.9 L400.0 1248.5 L399.9 1250.0 L399.9 1251.6 L399.8 1253.1 L399.8 1254.7 L399.7 1256.3 L399.7 1257.8 L399.6 1259.4 L399.6 1260.9 L399.5 1262.5 L399.4 1264.1 L399.4 1265.6 L399.3 1267.2 L399.3 1268.8 L399.2 1270.3 L399.2 1271.9 L399.1 1273.5 L399.1 1275.0 L399.0 1276.6 L399.0 1278.1 L398.9 1279.7 L398.8 1281.3 L398.8 1282.8 L398.7 1284.4 L398.7 1285.9 L398.6 1287.5 L398.6 1289.0 L398.5 1290.5 L398.5 1292.1 L398.4 1293.6 L398.4 1295.1 L398.3 1296.7 L398.3 1298.2 L398.2 1299.7 L398.1 1301.2 L398.1 1302.7 L398.0 1304.3 L398.0 1305.8 L397.9 1307.3 L397.9 1308.8 L397.8 1310.4 L397.8 1311.9 L397.7 1313.4 L397.7 1315.0 L397.6 1316.5 L397.6 1318.1 L397.5 1319.6 L397.4 1321.1 L397.4 1322.7 L397.3 1324.2 L397.3 1325.8 L397.2 1327.3 L397.2 1328.9 L397.1 1330.4 L397.1 1332.0 L397.0 1333.5 L396.9 1335.1 L396.9 1336.6 L396.8 1338.2 L396.8 1339.7 L396.7 1341.3 L396.7 1342.8 L396.6 1344.3 L396.6 1345.9 L396.5 1347.4 L396.4 1349.0 L396.4 1350.5 L396.3 1352.1 L396.3 1353.6 L396.2 1355.1 L396.2 1356.7 L396.1 1358.2 L396.1 1359.7 L396.0 1361.3 L396.0 1362.8 L395.9 1364.3 L395.8 1365.8 L395.8 1367.3 L395.7 1368.9 L395.7 1370.4 L395.6 1371.9 L395.6 1373.4 L395.5 1374.9 L395.5 1376.4 L395.4 1377.9 L395.4 1379.4 L395.3 1380.8 L395.3 1382.3 L395.2 1383.8 L395.2 1385.3 L395.1 1386.7 L395.1 1388.2 L395.0 1389.7 L395.0 1391.1 L394.9 1392.6 L394.9 1394.0 L394.8 1395.5 L394.8 1396.9 L394.8 1398.3 L394.7 1399.7 L394.7 1401.4 L394.6 1403.0 L394.6 1404.7 L394.5 1406.3 L394.4 1408.0 L394.4 1409.7 L394.3 1411.4 L394.3 1413.1 L394.2 1414.9 L394.2 1416.6 L394.1 1418.3 L394.1 1420.1 L394.0 1421.8 L394.0 1423.6 L393.9 1425.3 L393.9 1427.1 L393.8 1428.9 L393.8 1430.6 L393.7 1432.4 L393.7 1434.1 L393.6 1435.9 L393.6 1437.6 L393.5 1439.3 L393.5 1441.1 L393.4 1442.8 L393.4 1444.5 L393.3 1446.2 L393.3 1447.9 L393.2 1449.5 L393.2 1451.2 L393.2 1452.8 L393.1 1454.4 L393.1 1456.0 L393.0 1457.6 L393.0 1459.2 L392.9 1460.7 L392.9 1462.2 L392.8 1463.7 L392.8 1465.2 L392.8 1466.6 L392.7 1468.0 L392.7 1469.4 L392.7 1470.8 L392.6 1472.1 L392.6 1473.4 L392.5 1474.7 L392.5 1475.9 L392.5 1477.1 L392.5 1478.2 L392.4 1479.3 L392.4 1480.4 L392.4 1481.4 L392.3 1482.4 L392.3 1483.4 L392.3 1484.3 L392.3 1485.2 L392.2 1486.0 L392.2 1486.8 Z" fill="#ef3e40"/>
<circle cx="1179.6" cy="657.0" r="8.3" fill="#ef3e40"/>
<path d="M400.5 1487.0 C400.6 1483.0 400.6 1475.5 401.1 1463.0 C401.6 1450.5 402.9 1435.0 403.7 1412.0 C404.5 1389.0 405.1 1357.5 405.9 1325.0 C406.7 1292.5 407.5 1247.7 408.3 1217.0 C409.1 1186.3 410.1 1177.2 410.9 1141.0 C411.7 1104.8 412.1 1045.0 412.9 1000.0 C413.7 955.0 414.8 906.3 415.6 871.0 C416.5 835.7 417.2 818.2 418.0 788.0 C418.8 757.8 419.6 720.8 420.4 690.0 C421.2 659.2 422.2 631.3 423.0 603.0 C423.8 574.7 424.4 541.2 425.2 520.0 C426.0 498.8 427.1 486.0 427.7 476.0 C428.3 466.0 428.6 465.2 429.0 460.0 C429.4 454.8 429.9 448.9 430.3 445.0 C430.7 441.1 430.6 438.7 431.2 436.5 C431.8 434.3 432.9 432.0 433.8 432.0 C434.7 432.0 435.8 434.0 436.4 436.5 C437.0 439.0 436.4 443.5 437.6 447.0 C438.8 450.5 440.3 452.8 443.5 457.5 C446.7 462.2 452.6 470.0 456.8 475.3 C461.0 480.6 465.1 485.7 468.8 489.4 C472.5 493.1 476.0 495.4 479.0 497.5 C482.0 499.6 484.3 500.5 487.0 502.0 C489.7 503.5 492.2 506.6 495.2 506.7 C498.2 506.8 501.6 503.2 504.8 502.4 C508.0 501.6 510.8 501.7 514.3 501.9 C517.8 502.1 521.7 504.2 525.7 503.8 C529.7 503.4 534.0 500.0 538.1 499.5 C542.2 499.0 546.5 500.2 550.5 501.0 C554.5 501.8 558.7 501.7 561.9 504.0 C565.1 506.3 566.9 510.6 569.5 514.8 C572.1 519.0 575.1 524.0 577.8 529.0 C580.5 534.0 583.3 539.0 585.5 545.0 C587.7 551.0 589.3 557.8 591.0 565.0 C592.7 572.2 593.8 580.5 595.5 588.0 C597.2 595.5 599.3 602.7 601.0 610.0 C602.7 617.3 604.2 624.5 605.5 632.0 C606.8 639.5 607.9 647.7 609.0 655.0 C610.1 662.3 611.3 668.5 612.3 676.0 C613.3 683.5 614.0 692.7 614.8 700.0 C615.6 707.3 616.3 713.3 617.0 720.0 C617.7 726.7 618.4 735.3 618.8 740.0 C619.2 744.7 619.2 746.7 619.3 748.0" fill="none" stroke="#1c6edd" stroke-width="16.5"/>
<path d="M408.8 1487.2 L408.8 1486.4 L408.8 1485.5 L408.8 1484.5 L408.8 1483.4 L408.9 1482.3 L408.9 1481.1 L408.9 1479.8 L408.9 1478.3 L409.0 1476.8 L409.0 1475.2 L409.0 1473.5 L409.1 1471.7 L409.2 1469.8 L409.2 1467.8 L409.3 1465.6 L409.4 1463.3 L409.5 1462.3 L409.5 1461.2 L409.6 1460.0 L409.7 1458.9 L409.7 1457.7 L409.8 1456.5 L409.9 1455.3 L409.9 1454.1 L410.0 1452.8 L410.1 1451.6 L410.2 1450.3 L410.2 1448.9 L410.3 1447.6 L410.4 1446.2 L410.5 1444.8 L410.6 1443.4 L410.7 1441.9 L410.7 1440.4 L410.8 1438.9 L410.9 1437.4 L411.0 1435.8 L411.1 1434.2 L411.2 1432.6 L411.2 1430.9 L411.3 1429.2 L411.4 1427.5 L411.5 1425.7 L411.6 1423.9 L411.6 1422.0 L411.7 1420.2 L411.8 1418.3 L411.9 1416.3 L411.9 1414.3 L412.0 1412.3 L412.1 1411.1 L412.1 1409.9 L412.1 1408.6 L412.2 1407.4 L412.2 1406.1 L412.3 1404.9 L412.3 1403.6 L412.3 1402.3 L412.4 1401.0 L412.4 1399.6 L412.4 1398.3 L412.5 1396.9 L412.5 1395.6 L412.6 1394.2 L412.6 1392.8 L412.6 1391.4 L412.7 1390.0 L412.7 1388.6 L412.7 1387.1 L412.8 1385.7 L412.8 1384.2 L412.9 1382.8 L412.9 1381.3 L412.9 1379.8 L413.0 1378.3 L413.0 1376.8 L413.0 1375.3 L413.1 1373.8 L413.1 1372.3 L413.1 1370.7 L413.2 1369.2 L413.2 1367.6 L413.3 1366.1 L413.3 1364.5 L413.3 1362.9 L413.4 1361.3 L413.4 1359.7 L413.4 1358.1 L413.5 1356.5 L413.5 1354.9 L413.5 1353.3 L413.6 1351.7 L413.6 1350.1 L413.7 1348.4 L413.7 1346.8 L413.7 1345.2 L413.8 1343.5 L413.8 1341.9 L413.8 1340.2 L413.9 1338.6 L413.9 1336.9 L414.0 1335.2 L414.0 1333.6 L414.0 1331.9 L414.1 1330.2 L414.1 1328.6 L414.2 1326.9 L414.2 1325.2 L414.2 1323.8 L414.3 1322.5 L414.3 1321.1 L414.3 1319.7 L414.4 1318.2 L414.4 1316.8 L414.4 1315.4 L414.4 1313.9 L414.5 1312.5 L414.5 1311.0 L414.5 1309.5 L414.6 1308.0 L414.6 1306.5 L414.6 1305.0 L414.7 1303.5 L414.7 1302.0 L414.7 1300.4 L414.8 1298.9 L414.8 1297.4 L414.8 1295.8 L414.9 1294.2 L414.9 1292.7 L414.9 1291.1 L415.0 1289.5 L415.0 1288.0 L415.0 1286.4 L415.1 1284.8 L415.1 1283.2 L415.1 1281.6 L415.2 1280.0 L415.2 1278.4 L415.2 1276.9 L415.3 1275.3 L415.3 1273.7 L415.3 1272.1 L415.4 1270.5 L415.4 1268.9 L415.4 1267.3 L415.5 1265.7 L415.5 1264.1 L415.5 1262.6 L415.6 1261.0 L415.6 1259.4 L415.6 1257.8 L415.7 1256.3 L415.7 1254.7 L415.7 1253.1 L415.8 1251.6 L415.8 1250.0 L415.8 1248.5 L415.9 1247.0 L415.9 1245.5 L415.9 1243.9 L416.0 1242.4 L416.0 1240.9 L416.0 1239.4 L416.1 1238.0 L416.1 1236.5 L416.1 1235.0 L416.2 1233.6 L416.2 1232.2 L416.3 1230.7 L416.3 1229.3 L416.3 1227.9 L416.4 1226.5 L416.4 1225.2 L416.4 1223.8 L416.5 1222.5 L416.5 1221.1 L416.5 1219.8 L416.6 1218.5 L416.6 1217.2 L416.7 1215.4 L416.7 1213.7 L416.8 1212.0 L416.8 1210.3 L416.9 1208.7 L416.9 1207.1 L417.0 1205.5 L417.0 1204.0 L417.1 1202.5 L417.1 1201.1 L417.2 1199.7 L417.2 1198.3 L417.3 1196.9 L417.4 1195.6 L417.4 1194.2 L417.5 1192.9 L417.5 1191.6 L417.6 1190.3 L417.6 1189.0 L417.7 1187.8 L417.7 1186.5 L417.8 1185.2 L417.8 1184.0 L417.9 1182.7 L418.0 1181.4 L418.0 1180.1 L418.1 1178.8 L418.1 1177.5 L418.2 1176.2 L418.2 1174.9 L418.3 1173.5 L418.3 1172.1 L418.4 1170.7 L418.4 1169.3 L418.5 1167.9 L418.5 1166.4 L418.6 1164.9 L418.6 1163.3 L418.7 1161.7 L418.7 1160.1 L418.8 1158.4 L418.8 1156.7 L418.9 1155.0 L418.9 1153.2 L419.0 1151.3 L419.0 1149.4 L419.1 1147.4 L419.1 1145.4 L419.1 1143.3 L419.2 1141.2 L419.2 1140.0 L419.2 1138.8 L419.3 1137.6 L419.3 1136.4 L419.3 1135.2 L419.3 1133.9 L419.4 1132.7 L419.4 1131.4 L419.4 1130.1 L419.4 1128.8 L419.4 1127.5 L419.5 1126.2 L419.5 1124.9 L419.5 1123.5 L419.5 1122.2 L419.5 1120.8 L419.6 1119.4 L419.6 1118.0 L419.6 1116.6 L419.6 1115.2 L419.7 1113.8 L419.7 1112.3 L419.7 1110.9 L419.7 1109.4 L419.7 1108.0 L419.8 1106.5 L419.8 1105.0 L419.8 1103.5 L419.8 1102.0 L419.8 1100.5 L419.9 1099.0 L419.9 1097.5 L419.9 1095.9 L419.9 1094.4 L419.9 1092.9 L420.0 1091.3 L420.0 1089.7 L420.0 1088.2 L420.0 1086.6 L420.0 1085.0 L420.1 1083.5 L420.1 1081.9 L420.1 1080.3 L420.1 1078.7 L420.1 1077.1 L420.1 1075.5 L420.2 1073.9 L420.2 1072.3 L420.2 1070.7 L420.2 1069.1 L420.2 1067.5 L420.3 1065.9 L420.3 1064.3 L420.3 1062.6 L420.3 1061.0 L420.3 1059.4 L420.4 1057.8 L420.4 1056.2 L420.4 1054.5 L420.4 1052.9 L420.4 1051.3 L420.5 1049.7 L420.5 1048.1 L420.5 1046.5 L420.5 1044.9 L420.5 1043.2 L420.6 1041.6 L420.6 1040.0 L420.6 1038.4 L420.6 1036.8 L420.7 1035.2 L420.7 1033.6 L420.7 1032.1 L420.7 1030.5 L420.7 1028.9 L420.8 1027.3 L420.8 1025.8 L420.8 1024.2 L420.8 1022.6 L420.8 1021.1 L420.9 1019.5 L420.9 1018.0 L420.9 1016.5 L420.9 1014.9 L421.0 1013.4 L421.0 1011.9 L421.0 1010.4 L421.0 1008.9 L421.1 1007.4 L421.1 1006.0 L421.1 1004.5 L421.1 1003.0 L421.2 1001.6 L421.2 1000.1 L421.2 998.6 L421.2 997.0 L421.3 995.4 L421.3 993.8 L421.3 992.3 L421.4 990.7 L421.4 989.1 L421.4 987.5 L421.4 985.9 L421.5 984.3 L421.5 982.7 L421.5 981.1 L421.6 979.6 L421.6 978.0 L421.6 976.4 L421.6 974.8 L421.7 973.2 L421.7 971.6 L421.7 970.0 L421.8 968.4 L421.8 966.8 L421.8 965.2 L421.9 963.6 L421.9 962.0 L421.9 960.4 L422.0 958.8 L422.0 957.2 L422.0 955.6 L422.1 954.0 L422.1 952.5 L422.1 950.9 L422.2 949.3 L422.2 947.7 L422.2 946.1 L422.3 944.6 L422.3 943.0 L422.3 941.4 L422.4 939.8 L422.4 938.3 L422.4 936.7 L422.4 935.2 L422.5 933.6 L422.5 932.1 L422.5 930.5 L422.6 929.0 L422.6 927.4 L422.6 925.9 L422.7 924.4 L422.7 922.8 L422.7 921.3 L422.8 919.8 L422.8 918.3 L422.8 916.8 L422.9 915.3 L422.9 913.8 L422.9 912.3 L423.0 910.8 L423.0 909.3 L423.0 907.9 L423.1 906.4 L423.1 905.0 L423.1 903.5 L423.2 902.1 L423.2 900.6 L423.2 899.2 L423.3 897.8 L423.3 896.4 L423.3 895.0 L423.4 893.6 L423.4 892.2 L423.4 890.8 L423.5 889.4 L423.5 888.1 L423.5 886.7 L423.6 885.4 L423.6 884.0 L423.6 882.7 L423.7 881.4 L423.7 880.1 L423.7 878.8 L423.7 877.5 L423.8 876.2 L423.8 874.9 L423.8 873.7 L423.9 872.4 L423.9 871.2 L423.9 869.3 L424.0 867.4 L424.0 865.6 L424.1 863.8 L424.1 862.0 L424.2 860.2 L424.2 858.5 L424.3 856.8 L424.3 855.2 L424.4 853.5 L424.4 851.9 L424.4 850.3 L424.5 848.8 L424.5 847.2 L424.6 845.7 L424.6 844.2 L424.7 842.7 L424.7 841.2 L424.8 839.8 L424.8 838.3 L424.8 836.9 L424.9 835.5 L424.9 834.1 L425.0 832.7 L425.0 831.3 L425.1 829.9 L425.1 828.5 L425.1 827.1 L425.2 825.8 L425.2 824.4 L425.3 823.1 L425.3 821.7 L425.4 820.3 L425.4 819.0 L425.4 817.6 L425.5 816.2 L425.5 814.9 L425.6 813.5 L425.6 812.1 L425.7 810.7 L425.7 809.3 L425.7 807.9 L425.8 806.5 L425.8 805.1 L425.9 803.6 L425.9 802.2 L426.0 800.7 L426.0 799.2 L426.0 797.7 L426.1 796.2 L426.1 794.6 L426.2 793.1 L426.2 791.5 L426.3 789.9 L426.3 788.2 L426.3 786.8 L426.4 785.4 L426.4 784.0 L426.4 782.6 L426.5 781.1 L426.5 779.7 L426.6 778.2 L426.6 776.8 L426.6 775.3 L426.7 773.8 L426.7 772.4 L426.7 770.9 L426.8 769.4 L426.8 767.9 L426.8 766.4 L426.9 764.9 L426.9 763.4 L427.0 761.8 L427.0 760.3 L427.0 758.8 L427.1 757.3 L427.1 755.7 L427.1 754.2 L427.2 752.6 L427.2 751.1 L427.2 749.5 L427.3 748.0 L427.3 746.4 L427.4 744.9 L427.4 743.3 L427.4 741.8 L427.5 740.2 L427.5 738.7 L427.5 737.1 L427.6 735.5 L427.6 734.0 L427.6 732.4 L427.7 730.9 L427.7 729.3 L427.8 727.8 L427.8 726.2 L427.8 724.7 L427.9 723.1 L427.9 721.6 L427.9 720.0 L428.0 718.5 L428.0 717.0 L428.1 715.4 L428.1 713.9 L428.1 712.4 L428.2 710.9 L428.2 709.3 L428.2 707.8 L428.3 706.3 L428.3 704.8 L428.4 703.3 L428.4 701.9 L428.4 700.4 L428.5 698.9 L428.5 697.4 L428.5 696.0 L428.6 694.5 L428.6 693.1 L428.7 691.6 L428.7 690.2 L428.7 688.6 L428.8 687.0 L428.8 685.5 L428.9 683.9 L428.9 682.3 L429.0 680.8 L429.0 679.2 L429.1 677.6 L429.1 676.1 L429.1 674.5 L429.2 673.0 L429.2 671.5 L429.3 669.9 L429.3 668.4 L429.4 666.9 L429.4 665.3 L429.5 663.8 L429.5 662.3 L429.6 660.8 L429.6 659.3 L429.7 657.8 L429.7 656.3 L429.7 654.8 L429.8 653.3 L429.8 651.8 L429.9 650.3 L429.9 648.8 L430.0 647.3 L430.0 645.8 L430.1 644.3 L430.1 642.9 L430.2 641.4 L430.2 639.9 L430.3 638.4 L430.3 636.9 L430.3 635.5 L430.4 634.0 L430.4 632.5 L430.5 631.1 L430.5 629.6 L430.6 628.1 L430.6 626.7 L430.7 625.2 L430.7 623.7 L430.7 622.3 L430.8 620.8 L430.8 619.3 L430.9 617.9 L430.9 616.4 L431.0 615.0 L431.0 613.5 L431.1 612.0 L431.1 610.6 L431.1 609.1 L431.2 607.6 L431.2 606.2 L431.3 604.7 L431.3 603.2 L431.3 601.7 L431.4 600.1 L431.4 598.5 L431.5 597.0 L431.5 595.4 L431.6 593.8 L431.6 592.2 L431.6 590.6 L431.7 589.0 L431.7 587.3 L431.8 585.7 L431.8 584.1 L431.8 582.5 L431.9 580.9 L431.9 579.2 L432.0 577.6 L432.0 576.0 L432.0 574.3 L432.1 572.7 L432.1 571.1 L432.2 569.5 L432.2 567.8 L432.2 566.2 L432.3 564.6 L432.3 563.0 L432.3 561.4 L432.4 559.8 L432.4 558.2 L432.5 556.6 L432.5 555.1 L432.5 553.5 L432.6 552.0 L432.6 550.4 L432.7 548.9 L432.7 547.4 L432.7 545.8 L432.8 544.3 L432.8 542.9 L432.9 541.4 L432.9 539.9 L432.9 538.5 L433.0 537.1 L433.0 535.7 L433.1 534.3 L433.1 532.9 L433.1 531.6 L433.2 530.2 L433.2 528.9 L433.3 527.6 L433.3 526.3 L433.3 525.1 L433.4 523.9 L433.4 522.6 L433.5 521.5 L433.5 520.3 L433.6 518.2 L433.7 516.1 L433.8 514.0 L433.9 512.1 L434.0 510.2 L434.1 508.3 L434.1 506.5 L434.2 504.7 L434.3 503.0 L434.4 501.3 L434.5 499.7 L434.6 498.1 L434.7 496.6 L434.8 495.1 L434.9 493.6 L435.0 492.2 L435.1 490.8 L435.2 489.5 L435.3 488.1 L435.4 486.9 L435.5 485.6 L435.5 484.4 L435.6 483.2 L435.7 482.0 L435.8 480.9 L435.9 479.8 L435.9 478.7 L436.0 477.6 L436.1 476.6 L436.2 473.8 L436.4 471.6 L436.6 469.8 L436.7 468.2 L436.8 466.9 L436.9 465.8 L437.0 464.6 L437.2 463.5 L437.3 462.2 L437.4 460.7 L437.5 459.1 L437.7 457.5 L437.8 455.9 L437.9 454.3 L438.1 452.8 L438.2 451.2 L438.3 449.7 L438.5 448.3 L438.6 447.0 L438.7 445.7 L438.9 443.5 L439.0 441.7 L439.2 440.3 L439.4 439.6 L439.6 439.2 L440.1 438.4 L440.0 439.1 L434.2 442.2 L427.7 439.1 L427.4 438.3 L428.0 439.1 L428.1 439.2 L428.3 439.7 L428.4 441.1 L428.5 442.8 L428.5 444.9 L428.7 447.2 L429.1 449.4 L429.7 451.4 L430.3 453.2 L431.0 454.8 L431.8 456.4 L432.6 457.9 L433.6 459.4 L434.6 461.0 L435.7 462.8 L436.5 463.9 L437.3 465.1 L438.2 466.4 L439.2 467.7 L440.2 469.1 L441.2 470.4 L442.2 471.8 L443.3 473.3 L444.3 474.7 L445.4 476.0 L446.4 477.4 L447.4 478.7 L448.4 480.0 L449.4 481.2 L450.4 482.5 L451.5 483.9 L452.5 485.2 L453.6 486.5 L454.6 487.8 L455.7 489.1 L456.7 490.3 L457.8 491.6 L458.8 492.8 L459.9 494.0 L461.0 495.2 L462.0 496.3 L463.6 497.9 L465.1 499.3 L466.7 500.6 L468.2 501.8 L469.6 502.9 L470.9 503.9 L472.2 504.9 L473.6 505.8 L475.2 506.9 L476.8 507.9 L478.4 508.8 L479.7 509.5 L480.8 510.0 L481.8 510.5 L482.8 511.1 L484.0 511.9 L485.5 513.2 L487.8 514.7 L490.9 516.2 L494.8 516.9 L498.6 516.5 L501.7 515.3 L503.9 514.2 L505.5 513.2 L506.6 512.5 L507.3 512.2 L507.7 512.1 L508.3 512.1 L509.0 512.0 L509.9 512.0 L510.9 512.0 L512.1 512.0 L513.2 512.1 L514.1 512.2 L515.2 512.4 L516.6 512.8 L518.6 513.3 L520.9 513.8 L523.6 514.1 L526.7 514.0 L529.5 513.5 L532.0 512.6 L534.1 511.7 L535.9 510.9 L537.3 510.3 L538.3 509.9 L539.0 509.7 L539.5 509.6 L540.0 509.6 L540.7 509.7 L541.7 509.8 L542.8 509.9 L544.1 510.1 L545.5 510.4 L547.1 510.7 L548.7 511.1 L550.6 511.4 L552.3 511.6 L553.8 511.8 L554.9 512.0 L555.5 512.1 L556.0 512.1 L556.3 512.1 L556.4 512.1 L556.8 512.3 L557.3 512.8 L558.0 513.7 L558.8 514.9 L559.7 516.4 L560.6 518.0 L561.6 519.6 L562.4 521.0 L563.2 522.3 L564.0 523.6 L564.8 524.9 L565.7 526.3 L566.5 527.6 L567.3 529.0 L568.1 530.5 L568.9 531.9 L569.7 533.4 L570.4 534.7 L571.2 536.1 L571.9 537.4 L572.6 538.7 L573.3 540.1 L574.0 541.4 L574.7 542.7 L575.3 544.0 L575.9 545.3 L576.5 546.7 L577.1 548.1 L577.6 549.3 L578.0 550.6 L578.5 551.9 L578.9 553.3 L579.4 554.7 L579.8 556.1 L580.2 557.6 L580.6 559.1 L581.0 560.6 L581.4 562.1 L581.8 563.7 L582.1 565.3 L582.5 566.9 L582.8 568.3 L583.2 569.7 L583.5 571.1 L583.8 572.6 L584.1 574.1 L584.4 575.6 L584.6 577.1 L584.9 578.7 L585.2 580.3 L585.5 581.9 L585.8 583.5 L586.1 585.1 L586.4 586.7 L586.7 588.3 L587.0 589.9 L587.4 591.5 L587.7 593.0 L588.1 594.6 L588.4 596.1 L588.8 597.6 L589.2 599.1 L589.6 600.5 L590.0 602.0 L590.4 603.5 L590.7 604.9 L591.1 606.3 L591.5 607.7 L591.8 609.1 L592.2 610.5 L592.5 612.0 L592.9 613.5 L593.2 615.0 L593.6 616.6 L593.9 618.1 L594.2 619.6 L594.6 621.1 L594.9 622.7 L595.2 624.2 L595.5 625.7 L595.8 627.3 L596.1 628.8 L596.4 630.4 L596.7 631.9 L597.0 633.5 L597.3 635.0 L597.6 636.4 L597.8 637.9 L598.1 639.4 L598.3 641.0 L598.5 642.5 L598.8 644.0 L599.0 645.6 L599.2 647.1 L599.4 648.7 L599.7 650.2 L599.9 651.7 L600.1 653.3 L600.3 654.8 L600.5 656.3 L600.8 657.9 L601.0 659.4 L601.3 661.0 L601.5 662.5 L601.8 663.9 L602.0 665.4 L602.3 666.8 L602.5 668.3 L602.7 669.7 L603.0 671.1 L603.2 672.6 L603.4 674.1 L603.6 675.6 L603.9 677.1 L604.0 678.5 L604.2 679.9 L604.4 681.3 L604.6 682.8 L604.7 684.3 L604.9 685.8 L605.1 687.3 L605.2 688.9 L605.4 690.4 L605.5 692.0 L605.7 693.5 L605.8 695.0 L606.0 696.5 L606.1 698.0 L606.2 699.5 L606.4 700.9 L606.6 702.6 L606.7 704.2 L606.9 705.8 L607.1 707.4 L607.3 708.9 L607.4 710.5 L607.6 711.9 L607.8 713.4 L607.9 714.9 L608.1 716.4 L608.3 717.9 L608.4 719.3 L608.6 720.8 L608.8 722.4 L608.9 724.0 L609.1 725.6 L609.2 727.3 L609.4 729.0 L609.5 730.7 L609.7 732.3 L609.8 733.9 L610.0 735.5 L610.1 736.9 L610.2 738.3 L610.3 739.5 L610.4 740.6 L610.6 743.1 L610.8 745.0 L610.8 746.4 L610.9 747.5 L611.0 748.4 L627.6 747.6 L627.6 746.7 L627.5 745.5 L627.5 743.9 L627.4 741.9 L627.2 739.4 L627.1 738.2 L627.0 736.9 L626.9 735.5 L626.7 734.0 L626.6 732.4 L626.5 730.8 L626.3 729.2 L626.2 727.5 L626.0 725.8 L625.9 724.1 L625.7 722.4 L625.6 720.7 L625.4 719.2 L625.3 717.6 L625.1 716.1 L624.9 714.6 L624.8 713.0 L624.6 711.5 L624.4 710.0 L624.3 708.5 L624.1 707.0 L623.9 705.5 L623.8 703.9 L623.6 702.4 L623.4 700.8 L623.2 699.1 L623.1 697.7 L622.9 696.3 L622.8 694.9 L622.6 693.4 L622.5 691.9 L622.3 690.3 L622.2 688.8 L622.0 687.2 L621.9 685.7 L621.7 684.1 L621.6 682.5 L621.4 681.0 L621.2 679.4 L621.1 677.9 L620.9 676.4 L620.7 674.9 L620.5 673.3 L620.3 671.7 L620.1 670.1 L619.9 668.5 L619.6 667.0 L619.4 665.5 L619.2 664.0 L618.9 662.6 L618.7 661.1 L618.4 659.7 L618.2 658.2 L617.9 656.7 L617.7 655.2 L617.5 653.7 L617.2 652.2 L617.0 650.8 L616.8 649.3 L616.6 647.8 L616.3 646.2 L616.1 644.7 L615.9 643.1 L615.7 641.5 L615.4 640.0 L615.2 638.4 L615.0 636.8 L614.7 635.2 L614.5 633.6 L614.2 632.1 L614.0 630.5 L613.7 628.9 L613.4 627.2 L613.1 625.6 L612.8 624.0 L612.5 622.4 L612.2 620.8 L611.9 619.2 L611.5 617.6 L611.2 616.0 L610.9 614.4 L610.5 612.8 L610.2 611.3 L609.8 609.7 L609.5 608.0 L609.1 606.5 L608.8 605.0 L608.4 603.5 L608.1 602.0 L607.7 600.5 L607.3 599.0 L606.9 597.6 L606.5 596.1 L606.1 594.7 L605.8 593.2 L605.4 591.8 L605.0 590.4 L604.7 589.0 L604.3 587.5 L604.0 586.1 L603.6 584.7 L603.3 583.2 L603.0 581.8 L602.7 580.3 L602.4 578.7 L602.1 577.2 L601.9 575.6 L601.6 574.0 L601.3 572.5 L601.0 570.9 L600.7 569.3 L600.4 567.7 L600.1 566.1 L599.8 564.6 L599.5 563.1 L599.1 561.4 L598.7 559.7 L598.3 558.0 L597.9 556.4 L597.5 554.8 L597.1 553.1 L596.7 551.5 L596.3 549.9 L595.8 548.3 L595.4 546.7 L594.9 545.1 L594.4 543.5 L593.9 541.9 L593.2 540.1 L592.6 538.3 L591.9 536.6 L591.1 534.9 L590.4 533.3 L589.6 531.8 L588.9 530.3 L588.1 528.8 L587.4 527.4 L586.6 526.0 L585.9 524.6 L585.1 523.1 L584.2 521.5 L583.4 520.0 L582.5 518.4 L581.6 516.9 L580.8 515.4 L579.9 513.9 L579.0 512.5 L578.2 511.2 L577.4 510.0 L576.5 508.5 L575.6 507.0 L574.7 505.4 L573.8 503.7 L572.6 501.8 L571.3 499.9 L569.6 497.8 L567.5 495.9 L565.0 494.2 L562.4 493.0 L559.8 492.2 L557.5 491.7 L555.6 491.4 L553.8 491.2 L552.3 490.9 L550.9 490.7 L549.4 490.4 L547.8 490.0 L545.9 489.7 L543.9 489.4 L541.7 489.2 L539.3 489.2 L536.7 489.4 L534.1 489.9 L531.7 490.7 L529.6 491.6 L527.8 492.4 L526.4 493.1 L525.4 493.4 L524.9 493.6 L524.7 493.6 L524.4 493.6 L523.7 493.5 L522.7 493.3 L521.4 493.0 L519.6 492.5 L517.5 492.0 L515.4 491.7 L513.1 491.6 L511.1 491.5 L509.0 491.5 L506.8 491.7 L504.5 492.0 L501.9 492.7 L499.6 493.6 L497.4 494.7 L495.7 495.7 L494.6 496.4 L494.0 496.7 L494.4 496.5 L495.6 496.5 L496.6 496.7 L496.9 496.9 L496.5 496.6 L495.4 495.8 L493.9 494.7 L492.2 493.5 L490.6 492.6 L489.1 491.8 L487.9 491.2 L486.8 490.6 L485.7 490.0 L484.4 489.2 L483.4 488.5 L482.4 487.8 L481.3 487.0 L480.1 486.3 L479.0 485.4 L477.9 484.6 L476.8 483.6 L475.6 482.5 L474.8 481.7 L474.0 480.9 L473.1 480.0 L472.2 479.0 L471.2 477.9 L470.3 476.8 L469.3 475.7 L468.3 474.5 L467.3 473.3 L466.3 472.0 L465.3 470.7 L464.2 469.4 L463.3 468.3 L462.4 467.1 L461.4 465.8 L460.4 464.5 L459.4 463.2 L458.3 461.8 L457.3 460.5 L456.3 459.2 L455.4 457.9 L454.4 456.6 L453.5 455.4 L452.7 454.3 L451.9 453.2 L451.3 452.2 L450.2 450.6 L449.2 449.3 L448.4 448.1 L447.8 447.2 L447.3 446.4 L446.8 445.7 L446.4 445.1 L446.1 444.6 L445.7 443.7 L445.4 442.7 L445.2 441.5 L445.1 440.1 L445.1 438.4 L445.1 436.2 L444.8 433.9 L443.8 430.2 L441.8 426.1 L433.4 421.8 L425.8 426.2 L423.7 430.3 L422.8 433.8 L422.4 436.1 L422.3 438.3 L422.2 440.2 L422.1 442.2 L421.9 444.3 L421.8 445.5 L421.7 446.8 L421.5 448.3 L421.4 449.8 L421.3 451.3 L421.1 452.9 L421.0 454.5 L420.9 456.1 L420.7 457.7 L420.6 459.3 L420.5 460.7 L420.4 461.9 L420.2 463.0 L420.1 464.2 L420.0 465.4 L419.9 466.8 L419.8 468.5 L419.7 470.4 L419.5 472.7 L419.3 475.4 L419.3 476.5 L419.2 477.6 L419.1 478.6 L419.0 479.7 L419.0 480.9 L418.9 482.0 L418.8 483.2 L418.7 484.5 L418.6 485.7 L418.5 487.0 L418.5 488.3 L418.4 489.7 L418.3 491.1 L418.2 492.6 L418.1 494.0 L418.0 495.6 L417.9 497.1 L417.8 498.7 L417.7 500.4 L417.6 502.1 L417.6 503.8 L417.5 505.6 L417.4 507.5 L417.3 509.4 L417.2 511.3 L417.1 513.3 L417.0 515.4 L417.0 517.5 L416.9 519.7 L416.8 520.9 L416.8 522.1 L416.8 523.3 L416.7 524.5 L416.7 525.8 L416.6 527.1 L416.6 528.4 L416.6 529.7 L416.5 531.1 L416.5 532.4 L416.4 533.8 L416.4 535.2 L416.4 536.6 L416.3 538.0 L416.3 539.5 L416.2 541.0 L416.2 542.4 L416.2 543.9 L416.1 545.4 L416.1 546.9 L416.1 548.5 L416.0 550.0 L416.0 551.5 L415.9 553.1 L415.9 554.7 L415.9 556.2 L415.8 557.8 L415.8 559.4 L415.8 561.0 L415.7 562.6 L415.7 564.2 L415.6 565.8 L415.6 567.4 L415.6 569.1 L415.5 570.7 L415.5 572.3 L415.4 573.9 L415.4 575.6 L415.4 577.2 L415.3 578.8 L415.3 580.4 L415.2 582.1 L415.2 583.7 L415.2 585.3 L415.1 586.9 L415.1 588.5 L415.0 590.1 L415.0 591.8 L415.0 593.3 L414.9 594.9 L414.9 596.5 L414.8 598.1 L414.8 599.7 L414.7 601.2 L414.7 602.8 L414.7 604.2 L414.6 605.7 L414.6 607.2 L414.5 608.6 L414.5 610.1 L414.4 611.5 L414.4 613.0 L414.4 614.5 L414.3 615.9 L414.3 617.4 L414.2 618.8 L414.2 620.3 L414.1 621.8 L414.1 623.2 L414.0 624.7 L414.0 626.2 L414.0 627.6 L413.9 629.1 L413.9 630.6 L413.8 632.0 L413.8 633.5 L413.7 635.0 L413.7 636.4 L413.6 637.9 L413.6 639.4 L413.5 640.9 L413.5 642.3 L413.5 643.8 L413.4 645.3 L413.4 646.8 L413.3 648.3 L413.3 649.8 L413.2 651.3 L413.2 652.8 L413.1 654.3 L413.1 655.8 L413.0 657.3 L413.0 658.8 L412.9 660.3 L412.9 661.8 L412.9 663.3 L412.8 664.8 L412.8 666.4 L412.7 667.9 L412.7 669.4 L412.6 671.0 L412.6 672.5 L412.5 674.1 L412.5 675.6 L412.4 677.2 L412.4 678.7 L412.4 680.3 L412.3 681.9 L412.3 683.4 L412.2 685.0 L412.2 686.6 L412.1 688.2 L412.1 689.8 L412.1 691.2 L412.0 692.6 L412.0 694.1 L411.9 695.5 L411.9 697.0 L411.9 698.5 L411.8 699.9 L411.8 701.4 L411.8 702.9 L411.7 704.4 L411.7 705.9 L411.6 707.4 L411.6 708.9 L411.6 710.4 L411.5 712.0 L411.5 713.5 L411.5 715.0 L411.4 716.6 L411.4 718.1 L411.4 719.6 L411.3 721.2 L411.3 722.7 L411.2 724.3 L411.2 725.8 L411.2 727.4 L411.1 728.9 L411.1 730.5 L411.1 732.0 L411.0 733.6 L411.0 735.2 L410.9 736.7 L410.9 738.3 L410.9 739.8 L410.8 741.4 L410.8 742.9 L410.8 744.5 L410.7 746.1 L410.7 747.6 L410.7 749.2 L410.6 750.7 L410.6 752.2 L410.5 753.8 L410.5 755.3 L410.5 756.9 L410.4 758.4 L410.4 759.9 L410.4 761.4 L410.3 763.0 L410.3 764.5 L410.3 766.0 L410.2 767.5 L410.2 769.0 L410.1 770.5 L410.1 772.0 L410.1 773.4 L410.0 774.9 L410.0 776.4 L410.0 777.8 L409.9 779.3 L409.9 780.7 L409.8 782.1 L409.8 783.6 L409.8 785.0 L409.7 786.4 L409.7 787.8 L409.7 789.4 L409.6 791.0 L409.6 792.6 L409.5 794.2 L409.5 795.7 L409.4 797.2 L409.4 798.7 L409.3 800.2 L409.3 801.7 L409.3 803.1 L409.2 804.6 L409.2 806.0 L409.1 807.4 L409.1 808.8 L409.0 810.2 L409.0 811.6 L409.0 813.0 L408.9 814.4 L408.9 815.7 L408.8 817.1 L408.8 818.5 L408.7 819.8 L408.7 821.2 L408.7 822.5 L408.6 823.9 L408.6 825.3 L408.5 826.6 L408.5 828.0 L408.4 829.4 L408.4 830.7 L408.4 832.1 L408.3 833.5 L408.3 835.0 L408.2 836.4 L408.2 837.8 L408.1 839.3 L408.1 840.7 L408.1 842.2 L408.0 843.7 L408.0 845.2 L407.9 846.7 L407.9 848.3 L407.8 849.9 L407.8 851.5 L407.8 853.1 L407.7 854.7 L407.7 856.4 L407.6 858.1 L407.6 859.8 L407.5 861.6 L407.5 863.4 L407.4 865.2 L407.4 867.0 L407.3 868.9 L407.3 870.8 L407.3 872.0 L407.2 873.3 L407.2 874.5 L407.2 875.8 L407.2 877.1 L407.1 878.4 L407.1 879.7 L407.1 881.0 L407.0 882.3 L407.0 883.6 L407.0 885.0 L406.9 886.3 L406.9 887.7 L406.9 889.1 L406.8 890.4 L406.8 891.8 L406.8 893.2 L406.7 894.6 L406.7 896.0 L406.7 897.4 L406.7 898.8 L406.6 900.3 L406.6 901.7 L406.6 903.1 L406.5 904.6 L406.5 906.0 L406.5 907.5 L406.4 909.0 L406.4 910.5 L406.4 911.9 L406.3 913.4 L406.3 914.9 L406.3 916.4 L406.2 917.9 L406.2 919.4 L406.2 921.0 L406.1 922.5 L406.1 924.0 L406.1 925.5 L406.0 927.1 L406.0 928.6 L406.0 930.2 L405.9 931.7 L405.9 933.3 L405.9 934.8 L405.8 936.4 L405.8 937.9 L405.8 939.5 L405.7 941.1 L405.7 942.6 L405.7 944.2 L405.6 945.8 L405.6 947.4 L405.6 949.0 L405.5 950.5 L405.5 952.1 L405.5 953.7 L405.4 955.3 L405.4 956.9 L405.4 958.5 L405.4 960.1 L405.3 961.7 L405.3 963.3 L405.3 964.9 L405.2 966.5 L405.2 968.1 L405.2 969.7 L405.1 971.3 L405.1 972.9 L405.1 974.5 L405.0 976.1 L405.0 977.6 L405.0 979.2 L405.0 980.8 L404.9 982.4 L404.9 984.0 L404.9 985.6 L404.8 987.2 L404.8 988.8 L404.8 990.4 L404.8 992.0 L404.7 993.6 L404.7 995.1 L404.7 996.7 L404.6 998.3 L404.6 999.9 L404.6 1001.3 L404.6 1002.8 L404.5 1004.2 L404.5 1005.7 L404.5 1007.2 L404.5 1008.7 L404.4 1010.2 L404.4 1011.7 L404.4 1013.2 L404.4 1014.7 L404.4 1016.2 L404.3 1017.8 L404.3 1019.3 L404.3 1020.8 L404.3 1022.4 L404.2 1024.0 L404.2 1025.5 L404.2 1027.1 L404.2 1028.7 L404.2 1030.3 L404.1 1031.8 L404.1 1033.4 L404.1 1035.0 L404.1 1036.6 L404.1 1038.2 L404.0 1039.8 L404.0 1041.4 L404.0 1043.0 L404.0 1044.6 L404.0 1046.3 L403.9 1047.9 L403.9 1049.5 L403.9 1051.1 L403.9 1052.7 L403.9 1054.3 L403.8 1056.0 L403.8 1057.6 L403.8 1059.2 L403.8 1060.8 L403.8 1062.4 L403.7 1064.1 L403.7 1065.7 L403.7 1067.3 L403.7 1068.9 L403.7 1070.5 L403.6 1072.1 L403.6 1073.7 L403.6 1075.3 L403.6 1076.9 L403.6 1078.5 L403.5 1080.1 L403.5 1081.7 L403.5 1083.3 L403.5 1084.8 L403.5 1086.4 L403.4 1088.0 L403.4 1089.5 L403.4 1091.1 L403.4 1092.6 L403.4 1094.2 L403.3 1095.7 L403.3 1097.2 L403.3 1098.8 L403.3 1100.3 L403.3 1101.8 L403.2 1103.3 L403.2 1104.8 L403.2 1106.3 L403.2 1107.7 L403.2 1109.2 L403.1 1110.6 L403.1 1112.1 L403.1 1113.5 L403.1 1114.9 L403.1 1116.4 L403.0 1117.8 L403.0 1119.2 L403.0 1120.5 L403.0 1121.9 L402.9 1123.3 L402.9 1124.6 L402.9 1125.9 L402.9 1127.3 L402.9 1128.6 L402.8 1129.8 L402.8 1131.1 L402.8 1132.4 L402.8 1133.6 L402.7 1134.9 L402.7 1136.1 L402.7 1137.3 L402.7 1138.5 L402.6 1139.7 L402.6 1140.8 L402.6 1143.0 L402.5 1145.0 L402.5 1147.0 L402.4 1149.0 L402.4 1150.9 L402.3 1152.7 L402.3 1154.5 L402.2 1156.2 L402.2 1157.9 L402.1 1159.6 L402.1 1161.2 L402.0 1162.8 L401.9 1164.3 L401.9 1165.8 L401.8 1167.3 L401.8 1168.7 L401.7 1170.1 L401.7 1171.5 L401.6 1172.9 L401.6 1174.2 L401.5 1175.5 L401.5 1176.8 L401.4 1178.1 L401.4 1179.4 L401.3 1180.7 L401.2 1182.0 L401.2 1183.3 L401.1 1184.5 L401.1 1185.8 L401.0 1187.1 L401.0 1188.3 L400.9 1189.6 L400.9 1190.9 L400.8 1192.2 L400.8 1193.6 L400.7 1194.9 L400.7 1196.3 L400.6 1197.6 L400.6 1199.1 L400.5 1200.5 L400.4 1201.9 L400.4 1203.4 L400.3 1205.0 L400.3 1206.5 L400.2 1208.1 L400.2 1209.8 L400.1 1211.5 L400.1 1213.2 L400.0 1215.0 L400.0 1216.8 L400.0 1218.1 L399.9 1219.4 L399.9 1220.7 L399.9 1222.0 L399.8 1223.4 L399.8 1224.7 L399.8 1226.1 L399.7 1227.5 L399.7 1228.9 L399.7 1230.3 L399.6 1231.8 L399.6 1233.2 L399.6 1234.6 L399.5 1236.1 L399.5 1237.6 L399.5 1239.1 L399.4 1240.6 L399.4 1242.1 L399.4 1243.6 L399.3 1245.1 L399.3 1246.6 L399.3 1248.1 L399.2 1249.7 L399.2 1251.2 L399.2 1252.8 L399.1 1254.3 L399.1 1255.9 L399.1 1257.5 L399.0 1259.0 L399.0 1260.6 L399.0 1262.2 L398.9 1263.8 L398.9 1265.4 L398.9 1267.0 L398.8 1268.5 L398.8 1270.1 L398.8 1271.7 L398.7 1273.3 L398.7 1274.9 L398.7 1276.5 L398.6 1278.1 L398.6 1279.7 L398.6 1281.3 L398.5 1282.9 L398.5 1284.5 L398.5 1286.0 L398.4 1287.6 L398.4 1289.2 L398.4 1290.8 L398.3 1292.3 L398.3 1293.9 L398.3 1295.5 L398.2 1297.0 L398.2 1298.6 L398.2 1300.1 L398.1 1301.6 L398.1 1303.1 L398.1 1304.7 L398.0 1306.2 L398.0 1307.7 L398.0 1309.2 L397.9 1310.6 L397.9 1312.1 L397.9 1313.6 L397.8 1315.0 L397.8 1316.4 L397.8 1317.9 L397.7 1319.3 L397.7 1320.7 L397.7 1322.1 L397.6 1323.4 L397.6 1324.8 L397.6 1326.5 L397.5 1328.2 L397.5 1329.8 L397.4 1331.5 L397.4 1333.2 L397.4 1334.9 L397.3 1336.5 L397.3 1338.2 L397.3 1339.8 L397.2 1341.5 L397.2 1343.1 L397.1 1344.8 L397.1 1346.4 L397.1 1348.1 L397.0 1349.7 L397.0 1351.3 L397.0 1352.9 L396.9 1354.6 L396.9 1356.2 L396.8 1357.8 L396.8 1359.4 L396.8 1361.0 L396.7 1362.5 L396.7 1364.1 L396.7 1365.7 L396.6 1367.2 L396.6 1368.8 L396.6 1370.3 L396.5 1371.9 L396.5 1373.4 L396.4 1374.9 L396.4 1376.4 L396.4 1377.9 L396.3 1379.4 L396.3 1380.9 L396.3 1382.4 L396.2 1383.8 L396.2 1385.3 L396.1 1386.7 L396.1 1388.1 L396.1 1389.6 L396.0 1391.0 L396.0 1392.4 L396.0 1393.7 L395.9 1395.1 L395.9 1396.5 L395.8 1397.8 L395.8 1399.1 L395.8 1400.5 L395.7 1401.8 L395.7 1403.1 L395.6 1404.3 L395.6 1405.6 L395.6 1406.9 L395.5 1408.1 L395.5 1409.3 L395.4 1410.5 L395.4 1411.7 L395.3 1413.7 L395.2 1415.7 L395.2 1417.6 L395.1 1419.5 L395.0 1421.3 L394.9 1423.1 L394.8 1424.9 L394.7 1426.6 L394.6 1428.4 L394.6 1430.0 L394.5 1431.7 L394.4 1433.3 L394.3 1434.9 L394.2 1436.4 L394.1 1438.0 L394.0 1439.5 L393.9 1441.0 L393.9 1442.4 L393.8 1443.8 L393.7 1445.2 L393.6 1446.6 L393.5 1448.0 L393.5 1449.3 L393.4 1450.6 L393.3 1451.9 L393.2 1453.1 L393.2 1454.4 L393.1 1455.6 L393.0 1456.8 L393.0 1458.0 L392.9 1459.2 L392.9 1460.4 L392.8 1461.5 L392.8 1462.7 L392.7 1465.0 L392.6 1467.2 L392.5 1469.2 L392.5 1471.2 L392.4 1473.1 L392.4 1474.8 L392.4 1476.5 L392.4 1478.0 L392.3 1479.5 L392.3 1480.8 L392.3 1482.1 L392.3 1483.2 L392.3 1484.3 L392.3 1485.2 L392.2 1486.1 L392.2 1486.8 Z" fill="#1c6edd"/>
<circle cx="619.3" cy="748.0" r="8.3" fill="#1c6edd"/>
</g>
<rect x="393.5" y="101.5" width="1724.0" height="1386.0" fill="none" stroke="#000" stroke-width="17"/>
<g fill="#000"><rect x="365" y="1478.9" width="21" height="17"/><rect x="365" y="1201.7" width="21" height="17"/><rect x="365" y="924.5" width="21" height="17"/><rect x="365" y="647.3" width="21" height="17"/><rect x="365" y="370.1" width="21" height="17"/><rect x="365" y="92.9" width="21" height="17"/><rect x="384.9" y="1495" width="17" height="18"/><rect x="815.9" y="1495" width="17" height="18"/><rect x="1246.9" y="1495" width="17" height="18"/><rect x="1677.9" y="1495" width="17" height="18"/><rect x="2108.9" y="1495" width="17" height="18"/></g>
<text x="346.5" y="1517.4" text-anchor="end" style="font-family:'Liberation Serif','Times New Roman',serif;font-weight:bold;font-size:110px">0.0</text>
<text x="346.5" y="1240.2" text-anchor="end" style="font-family:'Liberation Serif','Times New Roman',serif;font-weight:bold;font-size:110px">0.6</text>
<text x="346.5" y="963.0" text-anchor="end" style="font-family:'Liberation Serif','Times New Roman',serif;font-weight:bold;font-size:110px">1.2</text>
<text x="346.5" y="685.8" text-anchor="end" style="font-family:'Liberation Serif','Times New Roman',serif;font-weight:bold;font-size:110px">1.8</text>
<text x="346.5" y="408.6" text-anchor="end" style="font-family:'Liberation Serif','Times New Roman',serif;font-weight:bold;font-size:110px">2.4</text>
<text x="346.5" y="132.9" text-anchor="end" style="font-family:'Liberation Serif','Times New Roman',serif;font-weight:bold;font-size:110px">3.0</text>
<text x="391.4" y="1615.5" text-anchor="middle" style="font-family:'Liberation Serif','Times New Roman',serif;font-weight:bold;font-size:110px">0</text>
<text x="822.4" y="1615.5" text-anchor="middle" style="font-family:'Liberation Serif','Times New Roman',serif;font-weight:bold;font-size:110px">30</text>
<text x="1254.4" y="1615.5" text-anchor="middle" style="font-family:'Liberation Serif','Times New Roman',serif;font-weight:bold;font-size:110px">60</text>
<text x="1686.4" y="1615.5" text-anchor="middle" style="font-family:'Liberation Serif','Times New Roman',serif;font-weight:bold;font-size:110px">90</text>
<text x="2113.9" y="1615.5" text-anchor="middle" style="font-family:'Liberation Serif','Times New Roman',serif;font-weight:bold;font-size:110px">120</text>
<text x="998" y="1793" style="font-family:'Liberation Serif','Times New Roman',serif;font-weight:bold;font-size:118px">Strain(%)</text>
<text transform="translate(124.4,1086) rotate(-90)" style="font-family:'Liberation Serif','Times New Roman',serif;font-weight:bold;font-size:122.5px">Stress (MPa)</text>
<path d="M1222.5 237.5 H1368 V240.0 H1372 V252.0 H1368 V254.5 H1222.5 V252.0 H1217.5 V240.0 H1222.5 Z" fill="#4f4f4f"/>
<text transform="translate(1383.2,269.3) scale(1,0.98)" style="font-family:'Liberation Serif','Times New Roman',serif;font-weight:bold;font-size:79.5px">PLA</text>
<path d="M1222.5 335.5 H1368 V338.0 H1372 V350.0 H1368 V352.5 H1222.5 V350.0 H1217.5 V338.0 H1222.5 Z" fill="#ef3e40"/>
<text transform="translate(1383.2,369.3) scale(1,0.98)" style="font-family:'Liberation Serif','Times New Roman',serif;font-weight:bold;font-size:79.5px">PLA/RosA/GO</text>
<path d="M1222.5 435.8 H1368 V438.3 H1372 V450.3 H1368 V452.8 H1222.5 V450.3 H1217.5 V438.3 H1222.5 Z" fill="#1c6edd"/>
<text transform="translate(1383.2,467.3) scale(1,0.98)" style="font-family:'Liberation Serif','Times New Roman',serif;font-weight:bold;font-size:79.5px">PLA/PEG/RosA/GO</text>
<g stroke="#222" stroke-width="2.4" stroke-linecap="round">
<line x1="192.5" y1="515" x2="194.5" y2="522"/>
<line x1="192.7" y1="615.5" x2="192.7" y2="646"/>
<line x1="194.5" y1="764" x2="192.5" y2="770"/>
</g>
</svg>
</body></html>
